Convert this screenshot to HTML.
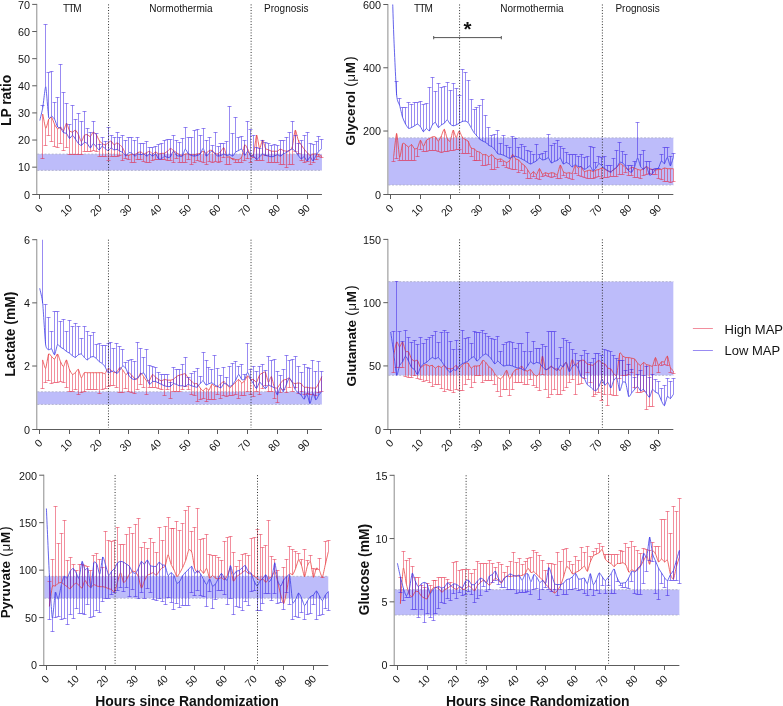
<!DOCTYPE html><html><head><meta charset="utf-8"><style>html,body{margin:0;padding:0;background:#fff;width:783px;height:706px;overflow:hidden}svg{display:block;will-change:transform}text{font-family:"Liberation Sans",sans-serif}</style></head><body>
<svg width="783" height="706" viewBox="0 0 783 706">
<rect x="37.3" y="154.11" width="284.65" height="16.28" fill="#bdbcfa"/>
<path d="M37.3 154.11H321.95M37.3 170.38H321.95" stroke="#b0b0cc" stroke-width="0.9" stroke-dasharray="2 1.6" fill="none"/>
<clipPath id="c_lp"><rect x="36.8" y="4.4" width="289.15" height="189.9"/></clipPath><g clip-path="url(#c_lp)">
<path d="M42.5 114.07V158.5M40.5 158.5H44.5M45.5 128.27V145.5M43.5 145.5H47.5M48.5 119.34V135.5M46.5 135.5H50.5M51.5 117.42V141.5M49.5 141.5H53.5M54.5 124.44V146.5M52.5 146.5H56.5M57.5 128.9V147.5M55.5 147.5H59.5M60.5 126.99V143.5M58.5 143.5H62.5M63.5 130.82V150.5M61.5 150.5H65.5M66.5 123.16V147.5M64.5 147.5H68.5M69.5 130.82V154.5M67.5 154.5H71.5M72.5 132.09V154.5M70.5 154.5H74.5M75.5 130.18V154.5M73.5 154.5H77.5M78.5 134.64V154.5M76.5 154.5H80.5M81.5 141.66V154.5M79.5 154.5H83.5M84.5 135.28V151.5M82.5 151.5H86.5M87.5 134.64V151.5M85.5 151.5H89.5M90.5 136.56V151.5M88.5 151.5H92.5M93.5 132.09V150.5M91.5 150.5H95.5M96.5 134.64V151.5M94.5 151.5H98.5M99.5 140.38V156.5M97.5 156.5H101.5M102.5 143.57V156.5M100.5 156.5H104.5M105.5 144.85V156.5M103.5 156.5H107.5M108.5 142.93V160.5M106.5 160.5H110.5M111.5 141.02V156.5M109.5 156.5H113.5M114.5 144.85V156.5M112.5 156.5H116.5M117.5 142.93V156.5M115.5 156.5H119.5M119.5 144.87V155.5M117.5 155.5H121.5M122.5 148.39V160.5M120.5 160.5H124.5M125.5 154.71V158.5M123.5 158.5H127.5M128.5 155.41V159.5M126.5 159.5H130.5M131.5 154.01V162.5M129.5 162.5H133.5M134.5 154.71V162.5M132.5 162.5H136.5M137.5 152.6V159.5M135.5 159.5H139.5M140.5 151.9V159.5M138.5 159.5H142.5M143.5 154.01V161.5M141.5 161.5H145.5M146.5 152.6V162.5M144.5 162.5H148.5M149.5 151.2V162.5M147.5 162.5H151.5M152.5 154.01V160.5M150.5 160.5H154.5M155.5 151.9V159.5M153.5 159.5H157.5M158.5 154.01V159.5M156.5 159.5H160.5M161.5 153.3V159.5M159.5 159.5H163.5M164.5 153.3V159.5M162.5 159.5H166.5M167.5 151.2V160.5M165.5 160.5H169.5M170.5 148.39V160.5M168.5 160.5H172.5M173.5 150.49V162.5M171.5 162.5H175.5M176.5 152.6V158.5M174.5 158.5H178.5M179.5 154.71V162.5M177.5 162.5H181.5M182.5 155.41V162.5M180.5 162.5H184.5M185.5 154.01V162.5M183.5 162.5H187.5M188.5 154.01V159.5M186.5 159.5H190.5M191.5 154.71V164.5M189.5 164.5H193.5M194.5 154.71V162.5M192.5 162.5H196.5M197.5 154.01V160.5M195.5 160.5H199.5M200.5 153.3V161.5M198.5 161.5H202.5M203.5 151.2V162.5M201.5 162.5H205.5M206.5 153.3V164.5M204.5 164.5H208.5M209.5 150.49V161.5M207.5 161.5H211.5M212.5 150.49V162.5M210.5 162.5H214.5M215.5 153.3V161.5M213.5 161.5H217.5M218.5 154.01V162.5M216.5 162.5H220.5M220.5 151.2V161.5M218.5 161.5H222.5M223.5 147.68V157.5M221.5 157.5H225.5M226.5 156.82V164.5M224.5 164.5H228.5M229.5 156.82V164.5M227.5 164.5H231.5M232.5 159.62V158.5M230.5 158.5H234.5M235.5 159.62V162.5M233.5 162.5H237.5M238.5 159.62V162.5M236.5 162.5H240.5M241.5 156.82V162.5M239.5 162.5H243.5M244.5 144.87V160.5M242.5 160.5H246.5M247.5 149.09V158.5M245.5 158.5H249.5M250.5 155.41V162.5M248.5 162.5H252.5M253.5 154.01V157.5M251.5 157.5H255.5M256.5 135.04V160.5M254.5 160.5H258.5M259.5 148.39V160.5M257.5 160.5H261.5M262.5 139.96V160.5M260.5 160.5H264.5M265.5 148.39V155.5M263.5 155.5H267.5M268.5 149.79V162.5M266.5 162.5H270.5M271.5 151.2V162.5M269.5 162.5H273.5M274.5 151.2V162.5M272.5 162.5H276.5M277.5 151.2V162.5M275.5 162.5H279.5M280.5 149.09V164.5M278.5 164.5H282.5M283.5 150.49V164.5M281.5 164.5H285.5M286.5 151.2V167.5M284.5 167.5H288.5M289.5 150.49V164.5M287.5 164.5H291.5M292.5 146.98V164.5M290.5 164.5H294.5M295.5 130.12V151.5M293.5 151.5H297.5M298.5 139.96V153.5M296.5 153.5H300.5M301.5 144.87V160.5M299.5 160.5H303.5M304.5 149.09V162.5M302.5 162.5H306.5M307.5 152.6V161.5M305.5 161.5H309.5M310.5 155.41V164.5M308.5 164.5H312.5M313.5 154.01V162.5M311.5 162.5H315.5M316.5 154.01V159.5M314.5 159.5H318.5M318.5 154.71V156.5M316.5 156.5H320.5M321.5 156.11V157.5M319.5 157.5H323.5" stroke="#e61e3c" stroke-opacity="0.5" stroke-width="1.0" fill="none"/>
<path d="M42.77 114.07C43.07 115.49 45.15 127.74 45.74 128.27C46.33 128.79 48.12 120.42 48.71 119.34C49.3 118.25 51.09 116.91 51.68 117.42C52.27 117.93 54.06 123.29 54.65 124.44C55.24 125.59 57.03 128.65 57.62 128.9C58.21 129.16 60 126.8 60.59 126.99C61.18 127.18 62.97 131.2 63.56 130.82C64.15 130.43 65.94 123.16 66.53 123.16C67.12 123.16 68.91 129.92 69.5 130.82C70.09 131.71 71.88 132.16 72.47 132.09C73.06 132.03 74.85 129.92 75.44 130.18C76.03 130.43 77.82 133.49 78.41 134.64C79 135.79 80.79 141.59 81.38 141.66C81.97 141.72 83.76 135.98 84.35 135.28C84.94 134.58 86.73 134.52 87.32 134.64C87.91 134.77 89.7 136.81 90.29 136.56C90.88 136.3 92.67 132.28 93.26 132.09C93.85 131.9 95.64 133.81 96.23 134.64C96.82 135.47 98.61 139.49 99.2 140.38C99.79 141.28 101.58 143.12 102.17 143.57C102.76 144.02 104.55 144.91 105.14 144.85C105.73 144.78 107.52 143.32 108.11 142.93C108.7 142.55 110.49 140.83 111.08 141.02C111.67 141.21 113.46 144.66 114.05 144.85C114.64 145.04 116.43 142.93 117.02 142.93C117.61 142.94 119.4 144.33 119.99 144.87C120.58 145.42 122.37 147.4 122.96 148.39C123.55 149.37 125.34 154.01 125.93 154.71C126.52 155.41 128.31 155.48 128.9 155.41C129.49 155.34 131.28 154.08 131.87 154.01C132.46 153.94 134.25 154.85 134.84 154.71C135.43 154.57 137.22 152.88 137.81 152.6C138.4 152.32 140.19 151.76 140.78 151.9C141.37 152.04 143.16 153.94 143.75 154.01C144.34 154.08 146.13 152.88 146.72 152.6C147.31 152.32 149.1 151.06 149.69 151.2C150.28 151.34 152.07 153.94 152.66 154.01C153.25 154.08 155.04 151.9 155.63 151.9C156.22 151.9 158.01 153.86 158.6 154.01C159.19 154.15 160.98 153.37 161.57 153.3C162.16 153.23 163.95 153.51 164.54 153.3C165.13 153.09 166.92 151.69 167.51 151.2C168.1 150.7 169.89 148.46 170.48 148.39C171.07 148.32 172.86 150.07 173.45 150.49C174.04 150.91 175.83 152.18 176.42 152.6C177.01 153.02 178.8 154.43 179.39 154.71C179.98 154.99 181.77 155.48 182.36 155.41C182.95 155.34 184.74 154.15 185.33 154.01C185.92 153.86 187.71 153.94 188.3 154.01C188.89 154.08 190.68 154.64 191.27 154.71C191.86 154.78 193.65 154.78 194.24 154.71C194.83 154.64 196.62 154.15 197.21 154.01C197.8 153.86 199.59 153.58 200.18 153.3C200.77 153.02 202.56 151.2 203.15 151.2C203.74 151.2 205.53 153.37 206.12 153.3C206.71 153.23 208.5 150.77 209.09 150.49C209.68 150.21 211.47 150.21 212.06 150.49C212.65 150.77 214.44 152.95 215.03 153.3C215.62 153.65 217.41 154.22 218 154.01C218.59 153.79 220.38 151.83 220.97 151.2C221.56 150.56 223.35 147.12 223.94 147.68C224.53 148.25 226.32 155.9 226.91 156.82C227.5 157.73 229.29 156.53 229.88 156.82C230.47 157.1 232.26 159.34 232.85 159.62C233.44 159.91 235.23 159.62 235.82 159.62C236.41 159.62 238.2 159.91 238.79 159.62C239.38 159.34 241.17 158.29 241.76 156.82C242.35 155.34 244.14 145.65 244.73 144.87C245.32 144.1 247.11 148.03 247.7 149.09C248.29 150.14 250.08 154.92 250.67 155.41C251.26 155.9 253.05 156.04 253.64 154.01C254.23 151.97 256.02 135.6 256.61 135.04C257.2 134.48 258.99 147.89 259.58 148.39C260.17 148.88 261.96 139.96 262.55 139.96C263.14 139.96 264.93 147.4 265.52 148.39C266.11 149.37 267.9 149.51 268.49 149.79C269.08 150.07 270.87 151.06 271.46 151.2C272.05 151.34 273.84 151.2 274.43 151.2C275.02 151.2 276.81 151.41 277.4 151.2C277.99 150.98 279.78 149.16 280.37 149.09C280.96 149.02 282.75 150.28 283.34 150.49C283.93 150.7 285.72 151.2 286.31 151.2C286.9 151.2 288.69 150.91 289.28 150.49C289.87 150.07 291.66 149.02 292.25 146.98C292.84 144.94 294.63 130.82 295.22 130.12C295.81 129.42 297.6 138.48 298.19 139.96C298.78 141.43 300.57 143.96 301.16 144.87C301.75 145.79 303.54 148.32 304.13 149.09C304.72 149.86 306.51 151.97 307.1 152.6C307.69 153.23 309.48 155.27 310.07 155.41C310.66 155.55 312.45 154.15 313.04 154.01C313.63 153.86 315.42 153.94 316.01 154.01C316.6 154.08 318.39 154.5 318.98 154.71C319.57 154.92 321.65 155.97 321.95 156.11" stroke="#e8403f" stroke-width="0.8" fill="none" stroke-linejoin="round"/>
<path d="M42.5 107.62V105.5M40.5 105.5H44.5M45.5 86.79V24.5M43.5 24.5H47.5M48.5 117.42V72.5M46.5 72.5H50.5M51.5 116.15V71.5M49.5 71.5H53.5M54.5 119.34V102.5M52.5 102.5H56.5M57.5 126.99V97.5M55.5 97.5H59.5M60.5 128.27V64.5M58.5 64.5H62.5M63.5 132.73V92.5M61.5 92.5H65.5M66.5 133.37V103.5M64.5 103.5H68.5M69.5 138.47V124.5M67.5 124.5H71.5M72.5 135.28V105.5M70.5 105.5H74.5M75.5 139.11V119.5M73.5 119.5H77.5M78.5 143.57V113.5M76.5 113.5H80.5M81.5 145.48V121.5M79.5 121.5H83.5M84.5 142.3V111.5M82.5 111.5H86.5M87.5 143.57V128.5M85.5 128.5H89.5M90.5 148.04V132.5M88.5 132.5H92.5M93.5 143.57V121.5M91.5 121.5H95.5M96.5 146.76V133.5M94.5 133.5H98.5M99.5 149.95V144.5M97.5 144.5H101.5M102.5 146.12V137.5M100.5 137.5H104.5M105.5 148.67V141.5M103.5 141.5H107.5M108.5 150.59V127.5M106.5 127.5H110.5M111.5 148.04V135.5M109.5 135.5H113.5M114.5 149.95V137.5M112.5 137.5H116.5M117.5 149.31V132.5M115.5 132.5H119.5M119.5 151.22V137.5M117.5 137.5H121.5M122.5 152.6V135.5M120.5 135.5H124.5M125.5 156.11V140.5M123.5 140.5H127.5M128.5 152.6V137.5M126.5 137.5H130.5M131.5 153.3V137.5M129.5 137.5H133.5M134.5 156.11V140.5M132.5 140.5H136.5M137.5 154.01V137.5M135.5 137.5H139.5M140.5 154.71V143.5M138.5 143.5H142.5M143.5 154.01V143.5M141.5 143.5H145.5M146.5 156.11V141.5M144.5 141.5H148.5M149.5 154.01V147.5M147.5 147.5H151.5M152.5 156.11V147.5M150.5 147.5H154.5M155.5 154.01V146.5M153.5 146.5H157.5M158.5 158.92V144.5M156.5 144.5H160.5M161.5 158.92V143.5M159.5 143.5H163.5M164.5 156.11V140.5M162.5 140.5H166.5M167.5 157.52V139.5M165.5 139.5H169.5M170.5 156.82V139.5M168.5 139.5H172.5M173.5 151.2V135.5M171.5 135.5H175.5M176.5 155.41V140.5M174.5 140.5H178.5M179.5 156.11V142.5M177.5 142.5H181.5M182.5 156.11V138.5M180.5 138.5H184.5M185.5 149.09V127.5M183.5 127.5H187.5M188.5 154.01V137.5M186.5 137.5H190.5M191.5 155.41V137.5M189.5 137.5H193.5M194.5 156.11V130.5M192.5 130.5H196.5M197.5 155.41V129.5M195.5 129.5H199.5M200.5 154.01V135.5M198.5 135.5H202.5M203.5 148.39V128.5M201.5 128.5H205.5M206.5 156.11V140.5M204.5 140.5H208.5M209.5 153.3V137.5M207.5 137.5H211.5M212.5 151.2V145.5M210.5 145.5H214.5M215.5 154.01V132.5M213.5 132.5H217.5M218.5 156.11V146.5M216.5 146.5H220.5M220.5 155.41V143.5M218.5 143.5H222.5M223.5 154.01V143.5M221.5 143.5H225.5M226.5 155.41V141.5M224.5 141.5H228.5M229.5 154.71V106.5M227.5 106.5H231.5M232.5 156.11V133.5M230.5 133.5H234.5M235.5 151.9V117.5M233.5 117.5H237.5M238.5 150.49V137.5M236.5 137.5H240.5M241.5 149.09V136.5M239.5 136.5H243.5M244.5 155.41V140.5M242.5 140.5H246.5M247.5 151.2V121.5M245.5 121.5H249.5M250.5 156.11V129.5M248.5 129.5H252.5M253.5 156.11V135.5M251.5 135.5H255.5M256.5 159.62V147.5M254.5 147.5H258.5M259.5 156.82V148.5M257.5 148.5H261.5M262.5 154.01V140.5M260.5 140.5H264.5M265.5 155.41V142.5M263.5 142.5H267.5M268.5 156.11V143.5M266.5 143.5H270.5M271.5 156.82V145.5M269.5 145.5H273.5M274.5 156.11V144.5M272.5 144.5H276.5M277.5 154.71V145.5M275.5 145.5H279.5M280.5 156.11V140.5M278.5 140.5H282.5M283.5 154.01V140.5M281.5 140.5H285.5M286.5 152.6V137.5M284.5 137.5H288.5M289.5 150.49V132.5M287.5 132.5H291.5M292.5 149.09V121.5M290.5 121.5H294.5M295.5 151.2V135.5M293.5 135.5H297.5M298.5 155.41V143.5M296.5 143.5H300.5M301.5 158.92V140.5M299.5 140.5H303.5M304.5 156.82V135.5M302.5 135.5H306.5M307.5 161.03V132.5M305.5 132.5H309.5M310.5 156.82V143.5M308.5 143.5H312.5M313.5 161.03V144.5M311.5 144.5H315.5M316.5 155.41V141.5M314.5 141.5H318.5M318.5 151.2V136.5M316.5 136.5H320.5M321.5 148.39V139.5M319.5 139.5H323.5" stroke="#3418e6" stroke-opacity="0.5" stroke-width="1.0" fill="none"/>
<path d="M39.8 120.52C40.1 119.23 42.18 110.99 42.77 107.62C43.36 104.25 45.15 85.81 45.74 86.79C46.33 87.77 48.12 114.49 48.71 117.42C49.3 120.36 51.09 115.96 51.68 116.15C52.27 116.34 54.06 118.25 54.65 119.34C55.24 120.42 57.03 126.1 57.62 126.99C58.21 127.88 60 127.69 60.59 128.27C61.18 128.84 62.97 132.22 63.56 132.73C64.15 133.24 65.94 132.79 66.53 133.37C67.12 133.94 68.91 138.28 69.5 138.47C70.09 138.66 71.88 135.22 72.47 135.28C73.06 135.34 74.85 138.28 75.44 139.11C76.03 139.94 77.82 142.93 78.41 143.57C79 144.21 80.79 145.61 81.38 145.48C81.97 145.36 83.76 142.49 84.35 142.3C84.94 142.1 86.73 143 87.32 143.57C87.91 144.15 89.7 148.04 90.29 148.04C90.88 148.04 92.67 143.7 93.26 143.57C93.85 143.44 95.64 146.12 96.23 146.76C96.82 147.4 98.61 150.01 99.2 149.95C99.79 149.89 101.58 146.25 102.17 146.12C102.76 145.99 104.55 148.23 105.14 148.67C105.73 149.12 107.52 150.65 108.11 150.59C108.7 150.52 110.49 148.1 111.08 148.04C111.67 147.97 113.46 149.82 114.05 149.95C114.64 150.08 116.43 149.18 117.02 149.31C117.61 149.44 119.4 150.9 119.99 151.22C120.58 151.55 122.37 152.11 122.96 152.6C123.55 153.09 125.34 156.11 125.93 156.11C126.52 156.11 128.31 152.88 128.9 152.6C129.49 152.32 131.28 152.95 131.87 153.3C132.46 153.65 134.25 156.04 134.84 156.11C135.43 156.18 137.22 154.15 137.81 154.01C138.4 153.86 140.19 154.71 140.78 154.71C141.37 154.71 143.16 153.86 143.75 154.01C144.34 154.15 146.13 156.11 146.72 156.11C147.31 156.11 149.1 154.01 149.69 154.01C150.28 154.01 152.07 156.11 152.66 156.11C153.25 156.11 155.04 153.72 155.63 154.01C156.22 154.29 158.01 158.43 158.6 158.92C159.19 159.41 160.98 159.2 161.57 158.92C162.16 158.64 163.95 156.25 164.54 156.11C165.13 155.97 166.92 157.45 167.51 157.52C168.1 157.59 169.89 157.45 170.48 156.82C171.07 156.18 172.86 151.34 173.45 151.2C174.04 151.06 175.83 154.92 176.42 155.41C177.01 155.9 178.8 156.04 179.39 156.11C179.98 156.18 181.77 156.82 182.36 156.11C182.95 155.41 184.74 149.3 185.33 149.09C185.92 148.88 187.71 153.37 188.3 154.01C188.89 154.64 190.68 155.2 191.27 155.41C191.86 155.62 193.65 156.11 194.24 156.11C194.83 156.11 196.62 155.62 197.21 155.41C197.8 155.2 199.59 154.71 200.18 154.01C200.77 153.3 202.56 148.18 203.15 148.39C203.74 148.6 205.53 155.62 206.12 156.11C206.71 156.6 208.5 153.79 209.09 153.3C209.68 152.81 211.47 151.13 212.06 151.2C212.65 151.27 214.44 153.51 215.03 154.01C215.62 154.5 217.41 155.97 218 156.11C218.59 156.25 220.38 155.62 220.97 155.41C221.56 155.2 223.35 154.01 223.94 154.01C224.53 154.01 226.32 155.34 226.91 155.41C227.5 155.48 229.29 154.64 229.88 154.71C230.47 154.78 232.26 156.39 232.85 156.11C233.44 155.83 235.23 152.46 235.82 151.9C236.41 151.34 238.2 150.77 238.79 150.49C239.38 150.21 241.17 148.6 241.76 149.09C242.35 149.58 244.14 155.2 244.73 155.41C245.32 155.62 247.11 151.13 247.7 151.2C248.29 151.27 250.08 155.62 250.67 156.11C251.26 156.6 253.05 155.76 253.64 156.11C254.23 156.46 256.02 159.55 256.61 159.62C257.2 159.7 258.99 157.38 259.58 156.82C260.17 156.25 261.96 154.15 262.55 154.01C263.14 153.86 264.93 155.2 265.52 155.41C266.11 155.62 267.9 155.97 268.49 156.11C269.08 156.25 270.87 156.82 271.46 156.82C272.05 156.82 273.84 156.32 274.43 156.11C275.02 155.9 276.81 154.71 277.4 154.71C277.99 154.71 279.78 156.18 280.37 156.11C280.96 156.04 282.75 154.36 283.34 154.01C283.93 153.65 285.72 152.95 286.31 152.6C286.9 152.25 288.69 150.84 289.28 150.49C289.87 150.14 291.66 149.02 292.25 149.09C292.84 149.16 294.63 150.56 295.22 151.2C295.81 151.83 297.6 154.64 298.19 155.41C298.78 156.18 300.57 158.78 301.16 158.92C301.75 159.06 303.54 156.6 304.13 156.82C304.72 157.03 306.51 161.03 307.1 161.03C307.69 161.03 309.48 156.82 310.07 156.82C310.66 156.82 312.45 161.17 313.04 161.03C313.63 160.89 315.42 156.39 316.01 155.41C316.6 154.43 318.39 151.9 318.98 151.2C319.57 150.49 321.65 148.67 321.95 148.39" stroke="#3c3ce6" stroke-width="0.8" fill="none" stroke-linejoin="round"/>
</g>
<line x1="108.56" y1="4.4" x2="108.56" y2="192.8" stroke="#303030" stroke-width="1" stroke-dasharray="1 1.8"/>
<line x1="251.12" y1="4.4" x2="251.12" y2="192.8" stroke="#303030" stroke-width="1" stroke-dasharray="1 1.8"/>
<path d="M36.8 3.9V194.5" stroke="#8c8c8c" stroke-width="1" fill="none"/>
<path d="M32.2 194.5H321.95" stroke="#5c5c5c" stroke-width="1" fill="none"/>
<line x1="32.2" y1="167.17" x2="36.8" y2="167.17" stroke="#5c5c5c" stroke-width="1"/>
<line x1="32.2" y1="140.04" x2="36.8" y2="140.04" stroke="#5c5c5c" stroke-width="1"/>
<line x1="32.2" y1="112.91" x2="36.8" y2="112.91" stroke="#5c5c5c" stroke-width="1"/>
<line x1="32.2" y1="85.79" x2="36.8" y2="85.79" stroke="#5c5c5c" stroke-width="1"/>
<line x1="32.2" y1="58.66" x2="36.8" y2="58.66" stroke="#5c5c5c" stroke-width="1"/>
<line x1="32.2" y1="31.53" x2="36.8" y2="31.53" stroke="#5c5c5c" stroke-width="1"/>
<line x1="32.2" y1="4.4" x2="36.8" y2="4.4" stroke="#5c5c5c" stroke-width="1"/>
<text x="30" y="198.6" font-size="10.8" fill="#141414" text-anchor="end">0</text>
<text x="30" y="171.47" font-size="10.8" fill="#141414" text-anchor="end">10</text>
<text x="30" y="144.34" font-size="10.8" fill="#141414" text-anchor="end">20</text>
<text x="30" y="117.21" font-size="10.8" fill="#141414" text-anchor="end">30</text>
<text x="30" y="90.09" font-size="10.8" fill="#141414" text-anchor="end">40</text>
<text x="30" y="62.96" font-size="10.8" fill="#141414" text-anchor="end">50</text>
<text x="30" y="35.83" font-size="10.8" fill="#141414" text-anchor="end">60</text>
<text x="30" y="8.7" font-size="10.8" fill="#141414" text-anchor="end">70</text>
<text font-size="10.5" fill="#141414" text-anchor="end" transform="translate(43.3 208.8) rotate(-45)">0</text>
<text font-size="10.5" fill="#141414" text-anchor="end" transform="translate(73 208.8) rotate(-45)">10</text>
<text font-size="10.5" fill="#141414" text-anchor="end" transform="translate(102.7 208.8) rotate(-45)">20</text>
<text font-size="10.5" fill="#141414" text-anchor="end" transform="translate(132.4 208.8) rotate(-45)">30</text>
<text font-size="10.5" fill="#141414" text-anchor="end" transform="translate(162.1 208.8) rotate(-45)">40</text>
<text font-size="10.5" fill="#141414" text-anchor="end" transform="translate(191.8 208.8) rotate(-45)">50</text>
<text font-size="10.5" fill="#141414" text-anchor="end" transform="translate(221.5 208.8) rotate(-45)">60</text>
<text font-size="10.5" fill="#141414" text-anchor="end" transform="translate(251.2 208.8) rotate(-45)">70</text>
<text font-size="10.5" fill="#141414" text-anchor="end" transform="translate(280.9 208.8) rotate(-45)">80</text>
<text font-size="10.5" fill="#141414" text-anchor="end" transform="translate(310.6 208.8) rotate(-45)">90</text>
<path d="M39.5 194.5V199M69.5 194.5V199M99.5 194.5V199M128.5 194.5V199M158.5 194.5V199M188.5 194.5V199M218.5 194.5V199M247.5 194.5V199M277.5 194.5V199M307.5 194.5V199" stroke="#5c5c5c" stroke-width="1" fill="none"/>
<text font-size="13.8" font-weight="bold" fill="#111" text-anchor="middle" transform="translate(11 100.4) rotate(-90)">LP ratio</text>
<text x="71.86" y="11.5" font-size="10" fill="#141414" text-anchor="middle" letter-spacing="-0.9">TTM</text>
<text x="180.89" y="11.5" font-size="10" fill="#141414" text-anchor="middle">Normothermia</text>
<text x="286.31" y="11.5" font-size="10" fill="#141414" text-anchor="middle">Prognosis</text>
<rect x="388.4" y="137.86" width="284.93" height="47.13" fill="#bdbcfa"/>
<path d="M388.4 137.86H673.33M388.4 184.99H673.33" stroke="#b0b0cc" stroke-width="0.9" stroke-dasharray="2 1.6" fill="none"/>
<clipPath id="c_gly"><rect x="387.9" y="4.5" width="289.43" height="189.8"/></clipPath><g clip-path="url(#c_gly)">
<path d="M393.5 156.44V161.5M391.5 161.5H395.5M396.5 133.48V158.5M394.5 158.5H398.5M399.5 157.29V160.5M397.5 160.5H401.5M402.5 143.68V160.5M400.5 160.5H404.5M405.5 144.53V160.5M403.5 160.5H407.5M408.5 147.08V160.5M406.5 160.5H410.5M411.5 144.53V160.5M409.5 160.5H413.5M414.5 148.78V160.5M412.5 160.5H416.5M417.5 147.93V156.5M415.5 156.5H419.5M420.5 140.28V149.5M418.5 149.5H422.5M423.5 146.23V151.5M421.5 151.5H425.5M426.5 140.28V151.5M424.5 151.5H428.5M429.5 138.58V150.5M427.5 150.5H431.5M432.5 136.88V150.5M430.5 150.5H434.5M435.5 136.88V150.5M433.5 150.5H437.5M438.5 141.13V151.5M436.5 151.5H440.5M441.5 136.03V152.5M439.5 152.5H443.5M444.5 129.22V151.5M442.5 151.5H446.5M447.5 138.58V151.5M445.5 151.5H449.5M450.5 141.13V150.5M448.5 150.5H452.5M453.5 130.07V150.5M451.5 150.5H455.5M456.5 137.73V149.5M454.5 149.5H458.5M459.5 130.93V149.5M457.5 149.5H461.5M462.5 136.88V153.5M460.5 153.5H464.5M465.5 139.43V153.5M463.5 153.5H467.5M468.5 141.13V153.5M466.5 153.5H470.5M471.5 147.93V156.5M469.5 156.5H473.5M474.5 148.78V160.5M472.5 160.5H476.5M476.5 151.33V160.5M474.5 160.5H478.5M479.5 152.18V160.5M477.5 160.5H481.5M482.5 154.73V165.5M480.5 165.5H484.5M485.5 154.53V165.5M483.5 165.5H487.5M488.5 156.66V164.5M486.5 164.5H490.5M491.5 154.53V169.5M489.5 169.5H493.5M494.5 158.07V169.5M492.5 169.5H496.5M497.5 159.49V167.5M495.5 167.5H499.5M500.5 158.9V161.5M498.5 161.5H502.5M503.5 160.94V165.5M501.5 165.5H505.5M506.5 162.47V167.5M504.5 167.5H508.5M509.5 160.43V168.5M507.5 168.5H511.5M512.5 154.3V169.5M510.5 169.5H514.5M515.5 158.9V169.5M513.5 169.5H517.5M518.5 159.92V172.5M516.5 172.5H520.5M521.5 163.49V170.5M519.5 170.5H523.5M524.5 165.54V173.5M522.5 173.5H526.5M527.5 169.62V178.5M525.5 178.5H529.5M530.5 174.22V178.5M528.5 178.5H532.5M533.5 171.66V176.5M531.5 176.5H535.5M536.5 174.73V178.5M534.5 178.5H538.5M539.5 168.6V179.5M537.5 179.5H541.5M542.5 174.22V176.5M540.5 176.5H544.5M545.5 172.69V175.5M543.5 175.5H547.5M548.5 173.71V176.5M546.5 176.5H550.5M551.5 172.69V177.5M549.5 177.5H553.5M554.5 173.2V176.5M552.5 176.5H556.5M557.5 174.73V178.5M555.5 178.5H559.5M560.5 165.03V178.5M558.5 178.5H562.5M563.5 171.66V175.5M561.5 175.5H565.5M566.5 173.2V177.5M564.5 177.5H568.5M569.5 172.69V178.5M567.5 178.5H571.5M572.5 173.2V179.5M570.5 179.5H574.5M575.5 165.54V173.5M573.5 173.5H577.5M578.5 168.09V175.5M576.5 175.5H580.5M581.5 166.57V176.5M579.5 176.5H583.5M584.5 171.53V177.5M582.5 177.5H586.5M587.5 170.82V178.5M585.5 178.5H589.5M590.5 170.11V178.5M588.5 178.5H592.5M593.5 171.53V178.5M591.5 178.5H595.5M595.5 170.11V177.5M593.5 177.5H597.5M598.5 169.41V176.5M596.5 176.5H600.5M601.5 167.99V178.5M599.5 178.5H603.5M604.5 169.41V177.5M602.5 177.5H606.5M607.5 170.82V177.5M605.5 177.5H609.5M610.5 171.53V176.5M608.5 176.5H612.5M613.5 169.41V176.5M611.5 176.5H615.5M616.5 167.28V176.5M614.5 176.5H618.5M619.5 163.74V174.5M617.5 174.5H621.5M622.5 165.16V174.5M620.5 174.5H624.5M625.5 167.99V172.5M623.5 172.5H627.5M628.5 169.41V175.5M626.5 175.5H630.5M631.5 167.28V175.5M629.5 175.5H633.5M634.5 167.99V177.5M632.5 177.5H636.5M637.5 169.41V177.5M635.5 177.5H639.5M640.5 170.11V178.5M638.5 178.5H642.5M643.5 168.7V175.5M641.5 175.5H645.5M646.5 166.57V174.5M644.5 174.5H648.5M649.5 168.7V173.5M647.5 173.5H651.5M652.5 169.41V174.5M650.5 174.5H654.5M655.5 170.11V174.5M653.5 174.5H657.5M658.5 169.41V178.5M656.5 178.5H660.5M661.5 169.41V179.5M659.5 179.5H663.5M664.5 167.99V181.5M662.5 181.5H666.5M667.5 168.7V181.5M665.5 181.5H669.5M670.5 168.7V182.5M668.5 182.5H672.5M673.5 168.7V181.5M671.5 181.5H675.5" stroke="#e61e3c" stroke-opacity="0.5" stroke-width="1.0" fill="none"/>
<path d="M393.68 156.44C393.97 154.14 396.05 133.39 396.65 133.48C397.25 133.56 399.03 156.27 399.62 157.29C400.22 158.31 402 144.96 402.6 143.68C403.19 142.4 404.98 144.19 405.57 144.53C406.17 144.87 407.96 147.08 408.55 147.08C409.14 147.08 410.93 144.36 411.52 144.53C412.12 144.7 413.9 148.44 414.5 148.78C415.1 149.12 416.88 148.78 417.47 147.93C418.07 147.08 419.85 140.45 420.45 140.28C421.05 140.11 422.83 146.23 423.43 146.23C424.02 146.23 425.8 141.04 426.4 140.28C427 139.51 428.78 138.92 429.38 138.58C429.97 138.24 431.75 137.05 432.35 136.88C432.94 136.71 434.73 136.45 435.32 136.88C435.92 137.3 437.71 141.21 438.3 141.13C438.89 141.04 440.68 137.22 441.27 136.03C441.87 134.84 443.65 128.97 444.25 129.22C444.85 129.48 446.63 137.39 447.22 138.58C447.82 139.77 449.6 141.98 450.2 141.13C450.8 140.28 452.58 130.41 453.18 130.07C453.77 129.73 455.55 137.64 456.15 137.73C456.75 137.81 458.53 131.01 459.12 130.93C459.72 130.84 461.5 136.03 462.1 136.88C462.7 137.73 464.48 139 465.07 139.43C465.67 139.85 467.46 140.28 468.05 141.13C468.64 141.98 470.43 147.17 471.02 147.93C471.62 148.7 473.4 148.44 474 148.78C474.6 149.12 476.38 150.99 476.98 151.33C477.57 151.67 479.36 151.84 479.95 152.18C480.54 152.52 482.33 154.5 482.93 154.73C483.52 154.97 485.3 154.34 485.9 154.53C486.5 154.72 488.28 156.66 488.88 156.66C489.47 156.66 491.25 154.39 491.85 154.53C492.45 154.67 494.23 157.58 494.82 158.07C495.42 158.57 497.21 159.41 497.8 159.49C498.39 159.57 500.18 158.75 500.77 158.9C501.37 159.04 503.15 160.58 503.75 160.94C504.35 161.3 506.13 162.52 506.73 162.47C507.32 162.42 509.11 161.25 509.7 160.43C510.29 159.61 512.08 154.45 512.67 154.3C513.27 154.15 515.05 158.34 515.65 158.9C516.25 159.46 518.03 159.46 518.62 159.92C519.22 160.38 521 162.93 521.6 163.49C522.2 164.06 523.98 164.92 524.58 165.54C525.17 166.15 526.95 168.75 527.55 169.62C528.14 170.49 529.93 174.01 530.52 174.22C531.12 174.42 532.9 171.61 533.5 171.66C534.1 171.72 535.88 175.04 536.48 174.73C537.07 174.42 538.86 168.65 539.45 168.6C540.05 168.55 541.83 173.81 542.42 174.22C543.02 174.63 544.8 172.74 545.4 172.69C546 172.64 547.78 173.71 548.38 173.71C548.97 173.71 550.75 172.74 551.35 172.69C551.95 172.64 553.73 172.99 554.33 173.2C554.92 173.4 556.7 175.55 557.3 174.73C557.89 173.91 559.68 165.33 560.27 165.03C560.87 164.72 562.65 170.85 563.25 171.66C563.85 172.48 565.63 173.09 566.23 173.2C566.82 173.3 568.61 172.69 569.2 172.69C569.8 172.69 571.58 173.91 572.17 173.2C572.77 172.48 574.55 166.05 575.15 165.54C575.75 165.03 577.53 167.99 578.12 168.09C578.72 168.19 580.5 166.23 581.1 166.57C581.7 166.92 583.48 171.1 584.08 171.53C584.67 171.95 586.45 170.96 587.05 170.82C587.64 170.68 589.43 170.04 590.02 170.11C590.62 170.18 592.4 171.53 593 171.53C593.6 171.53 595.38 170.33 595.98 170.11C596.57 169.9 598.36 169.62 598.95 169.41C599.55 169.19 601.33 167.99 601.92 167.99C602.52 167.99 604.3 169.12 604.9 169.41C605.5 169.69 607.28 170.61 607.88 170.82C608.47 171.03 610.25 171.67 610.85 171.53C611.45 171.39 613.23 169.83 613.83 169.41C614.42 168.98 616.2 167.85 616.8 167.28C617.39 166.71 619.18 163.95 619.77 163.74C620.37 163.53 622.15 164.73 622.75 165.16C623.35 165.58 625.13 167.56 625.73 167.99C626.32 168.41 628.11 169.48 628.7 169.41C629.3 169.33 631.08 167.42 631.67 167.28C632.27 167.14 634.05 167.78 634.65 167.99C635.25 168.2 637.03 169.19 637.62 169.41C638.22 169.62 640 170.18 640.6 170.11C641.2 170.04 642.98 169.05 643.58 168.7C644.17 168.34 645.95 166.57 646.55 166.57C647.14 166.57 648.93 168.41 649.52 168.7C650.12 168.98 651.9 169.26 652.5 169.41C653.1 169.55 654.88 170.11 655.48 170.11C656.07 170.11 657.86 169.48 658.45 169.41C659.05 169.33 660.83 169.55 661.42 169.41C662.02 169.26 663.8 168.06 664.4 167.99C665 167.92 666.78 168.63 667.38 168.7C667.97 168.77 669.75 168.7 670.35 168.7C670.95 168.7 673.03 168.7 673.33 168.7" stroke="#e8403f" stroke-width="0.8" fill="none" stroke-linejoin="round"/>
<path d="M396.5 95V81.5M394.5 81.5H398.5M399.5 105.41V98.5M397.5 98.5H401.5M402.5 117.32V107.5M400.5 107.5H404.5M405.5 124.12V107.5M403.5 107.5H407.5M408.5 128.37V102.5M406.5 102.5H410.5M411.5 127.52V104.5M409.5 104.5H413.5M414.5 125.82V102.5M412.5 102.5H416.5M417.5 124.12V102.5M415.5 102.5H419.5M420.5 126.67V101.5M418.5 101.5H422.5M423.5 131.78V104.5M421.5 104.5H425.5M426.5 128.37V103.5M424.5 103.5H428.5M429.5 130.93V87.5M427.5 87.5H431.5M432.5 124.97V77.5M430.5 77.5H434.5M435.5 122.42V91.5M433.5 91.5H437.5M438.5 127.52V83.5M436.5 83.5H440.5M441.5 124.97V87.5M439.5 87.5H443.5M444.5 123.27V86.5M442.5 86.5H446.5M447.5 119.87V82.5M445.5 82.5H449.5M450.5 124.12V90.5M448.5 90.5H452.5M453.5 125.82V83.5M451.5 83.5H455.5M456.5 124.97V88.5M454.5 88.5H458.5M459.5 123.27V95.5M457.5 95.5H461.5M462.5 121.57V69.5M460.5 69.5H464.5M465.5 121.06V72.5M463.5 72.5H467.5M468.5 122.42V80.5M466.5 80.5H470.5M471.5 127.52V99.5M469.5 99.5H473.5M474.5 132.63V109.5M472.5 109.5H476.5M476.5 136.03V107.5M474.5 107.5H478.5M479.5 139.43V105.5M477.5 105.5H481.5M482.5 141.13V99.5M480.5 99.5H484.5M485.5 142.49V115.5M483.5 115.5H487.5M488.5 145.33V127.5M486.5 127.5H490.5M491.5 146.74V135.5M489.5 135.5H493.5M494.5 149.58V134.5M492.5 134.5H496.5M497.5 153.82V130.5M495.5 130.5H499.5M500.5 154.3V143.5M498.5 143.5H502.5M503.5 155.32V135.5M501.5 135.5H505.5M506.5 156.85V145.5M504.5 145.5H508.5M509.5 158.39V147.5M507.5 147.5H511.5M512.5 156.85V136.5M510.5 136.5H514.5M515.5 156.34V138.5M513.5 138.5H517.5M518.5 157.36V147.5M516.5 147.5H520.5M521.5 158.9V144.5M519.5 144.5H523.5M524.5 160.43V146.5M522.5 146.5H526.5M527.5 162.47V150.5M525.5 150.5H529.5M530.5 164V151.5M528.5 151.5H532.5M533.5 162.47V154.5M531.5 154.5H535.5M536.5 160.94V144.5M534.5 144.5H538.5M539.5 157.88V154.5M537.5 154.5H541.5M542.5 159.92V153.5M540.5 153.5H544.5M545.5 159.41V151.5M543.5 151.5H547.5M548.5 157.88V134.5M546.5 134.5H550.5M551.5 162.98V145.5M549.5 145.5H553.5M554.5 161.45V143.5M552.5 143.5H556.5M557.5 160.43V140.5M555.5 140.5H559.5M560.5 157.88V146.5M558.5 146.5H562.5M563.5 164V148.5M561.5 148.5H565.5M566.5 162.47V152.5M564.5 152.5H568.5M569.5 164V154.5M567.5 154.5H571.5M572.5 167.07V154.5M570.5 154.5H574.5M575.5 164.51V154.5M573.5 154.5H577.5M578.5 166.56V156.5M576.5 156.5H580.5M581.5 166.57V154.5M579.5 154.5H583.5M584.5 169.41V157.5M582.5 157.5H586.5M587.5 167.99V156.5M585.5 156.5H589.5M590.5 165.86V146.5M588.5 146.5H592.5M593.5 170.82V147.5M591.5 147.5H595.5M595.5 167.99V162.5M593.5 162.5H597.5M598.5 163.74V156.5M596.5 156.5H600.5M601.5 165.86V157.5M599.5 157.5H603.5M604.5 168.7V156.5M602.5 156.5H606.5M607.5 170.82V165.5M605.5 165.5H609.5M610.5 172.24V165.5M608.5 165.5H612.5M613.5 169.41V158.5M611.5 158.5H615.5M616.5 167.28V150.5M614.5 150.5H618.5M619.5 162.32V142.5M617.5 142.5H621.5M622.5 163.03V151.5M620.5 151.5H624.5M625.5 166.57V154.5M623.5 154.5H627.5M628.5 170.82V165.5M626.5 165.5H630.5M631.5 172.24V165.5M629.5 165.5H633.5M634.5 166.57V161.5M632.5 161.5H636.5M637.5 158.07V122.5M635.5 122.5H639.5M640.5 166.57V154.5M638.5 154.5H642.5M643.5 169.41V150.5M641.5 150.5H645.5M646.5 166.57V161.5M644.5 161.5H648.5M649.5 175.07V161.5M647.5 161.5H651.5M652.5 173.65V169.5M650.5 169.5H654.5M655.5 169.41V168.5M653.5 168.5H657.5M658.5 167.99V168.5M656.5 168.5H660.5M661.5 160.91V154.5M659.5 154.5H663.5M664.5 163.74V147.5M662.5 147.5H666.5M667.5 157.37V147.5M665.5 147.5H669.5M670.5 165.86V156.5M668.5 156.5H672.5M673.5 157.37V153.5M671.5 153.5H675.5" stroke="#3418e6" stroke-opacity="0.5" stroke-width="1.0" fill="none"/>
<path d="M390.7 -60C391 -50.7 393.08 17.5 393.68 33C394.27 48.5 396.05 87.76 396.65 95C397.25 102.24 399.03 103.18 399.62 105.41C400.22 107.65 402 115.45 402.6 117.32C403.19 119.19 404.98 123.02 405.57 124.12C406.17 125.23 407.96 128.03 408.55 128.37C409.14 128.71 410.93 127.78 411.52 127.52C412.12 127.27 413.9 126.16 414.5 125.82C415.1 125.48 416.88 124.04 417.47 124.12C418.07 124.21 419.85 125.91 420.45 126.67C421.05 127.44 422.83 131.61 423.43 131.78C424.02 131.95 425.8 128.46 426.4 128.37C427 128.29 428.78 131.27 429.38 130.93C429.97 130.59 431.75 125.82 432.35 124.97C432.94 124.12 434.73 122.17 435.32 122.42C435.92 122.68 437.71 127.27 438.3 127.52C438.89 127.78 440.68 125.4 441.27 124.97C441.87 124.55 443.65 123.78 444.25 123.27C444.85 122.76 446.63 119.79 447.22 119.87C447.82 119.96 449.6 123.53 450.2 124.12C450.8 124.72 452.58 125.74 453.18 125.82C453.77 125.91 455.55 125.23 456.15 124.97C456.75 124.72 458.53 123.61 459.12 123.27C459.72 122.93 461.5 121.79 462.1 121.57C462.7 121.35 464.48 120.98 465.07 121.06C465.67 121.15 467.46 121.78 468.05 122.42C468.64 123.07 470.43 126.5 471.02 127.52C471.62 128.54 473.4 131.78 474 132.63C474.6 133.48 476.38 135.35 476.98 136.03C477.57 136.71 479.36 138.92 479.95 139.43C480.54 139.94 482.33 140.82 482.93 141.13C483.52 141.44 485.3 142.07 485.9 142.49C486.5 142.91 488.28 144.9 488.88 145.33C489.47 145.75 491.25 146.32 491.85 146.74C492.45 147.17 494.23 148.87 494.82 149.58C495.42 150.28 497.21 153.35 497.8 153.82C498.39 154.3 500.18 154.15 500.77 154.3C501.37 154.45 503.15 155.07 503.75 155.32C504.35 155.58 506.13 156.55 506.73 156.85C507.32 157.16 509.11 158.39 509.7 158.39C510.29 158.39 512.08 157.06 512.67 156.85C513.27 156.65 515.05 156.29 515.65 156.34C516.25 156.39 518.03 157.11 518.62 157.36C519.22 157.62 521 158.59 521.6 158.9C522.2 159.2 523.98 160.07 524.58 160.43C525.17 160.79 526.95 162.11 527.55 162.47C528.14 162.83 529.93 164 530.52 164C531.12 164 532.9 162.78 533.5 162.47C534.1 162.17 535.88 161.4 536.48 160.94C537.07 160.48 538.86 157.98 539.45 157.88C540.05 157.77 541.83 159.77 542.42 159.92C543.02 160.07 544.8 159.61 545.4 159.41C546 159.2 547.78 157.52 548.38 157.88C548.97 158.23 550.75 162.63 551.35 162.98C551.95 163.34 553.73 161.71 554.33 161.45C554.92 161.2 556.7 160.79 557.3 160.43C557.89 160.07 559.68 157.52 560.27 157.88C560.87 158.23 562.65 163.54 563.25 164C563.85 164.46 565.63 162.47 566.23 162.47C566.82 162.47 568.61 163.54 569.2 164C569.8 164.46 571.58 167.02 572.17 167.07C572.77 167.12 574.55 164.57 575.15 164.51C575.75 164.46 577.53 166.35 578.12 166.56C578.72 166.76 580.5 166.29 581.1 166.57C581.7 166.86 583.48 169.26 584.08 169.41C584.67 169.55 586.45 168.34 587.05 167.99C587.64 167.63 589.43 165.58 590.02 165.86C590.62 166.15 592.4 170.61 593 170.82C593.6 171.03 595.38 168.7 595.98 167.99C596.57 167.28 598.36 163.95 598.95 163.74C599.55 163.53 601.33 165.37 601.92 165.86C602.52 166.36 604.3 168.2 604.9 168.7C605.5 169.19 607.28 170.47 607.88 170.82C608.47 171.18 610.25 172.38 610.85 172.24C611.45 172.1 613.23 169.9 613.83 169.41C614.42 168.91 616.2 167.99 616.8 167.28C617.39 166.57 619.18 162.75 619.77 162.32C620.37 161.9 622.15 162.61 622.75 163.03C623.35 163.46 625.13 165.79 625.73 166.57C626.32 167.35 628.11 170.25 628.7 170.82C629.3 171.39 631.08 172.66 631.67 172.24C632.27 171.81 634.05 167.99 634.65 166.57C635.25 165.16 637.03 158.07 637.62 158.07C638.22 158.07 640 165.44 640.6 166.57C641.2 167.71 642.98 169.41 643.58 169.41C644.17 169.41 645.95 166.01 646.55 166.57C647.14 167.14 648.93 174.36 649.52 175.07C650.12 175.78 651.9 174.22 652.5 173.65C653.1 173.09 654.88 169.97 655.48 169.41C656.07 168.84 657.86 168.84 658.45 167.99C659.05 167.14 660.83 161.33 661.42 160.91C662.02 160.48 663.8 164.09 664.4 163.74C665 163.39 666.78 157.15 667.38 157.37C667.97 157.58 669.75 165.86 670.35 165.86C670.95 165.86 673.03 158.22 673.33 157.37" stroke="#3c3ce6" stroke-width="0.8" fill="none" stroke-linejoin="round"/>
</g>
<line x1="459.57" y1="4.5" x2="459.57" y2="192.8" stroke="#303030" stroke-width="1" stroke-dasharray="1 1.8"/>
<line x1="602.37" y1="4.5" x2="602.37" y2="192.8" stroke="#303030" stroke-width="1" stroke-dasharray="1 1.8"/>
<path d="M387.9 4V194.5" stroke="#8c8c8c" stroke-width="1" fill="none"/>
<path d="M383.3 194.5H673.33" stroke="#5c5c5c" stroke-width="1" fill="none"/>
<line x1="383.3" y1="131.03" x2="387.9" y2="131.03" stroke="#5c5c5c" stroke-width="1"/>
<line x1="383.3" y1="67.77" x2="387.9" y2="67.77" stroke="#5c5c5c" stroke-width="1"/>
<line x1="383.3" y1="4.5" x2="387.9" y2="4.5" stroke="#5c5c5c" stroke-width="1"/>
<text x="381.1" y="198.6" font-size="10.8" fill="#141414" text-anchor="end">0</text>
<text x="381.1" y="135.33" font-size="10.8" fill="#141414" text-anchor="end">200</text>
<text x="381.1" y="72.07" font-size="10.8" fill="#141414" text-anchor="end">400</text>
<text x="381.1" y="8.8" font-size="10.8" fill="#141414" text-anchor="end">600</text>
<text font-size="10.5" fill="#141414" text-anchor="end" transform="translate(394.2 208.8) rotate(-45)">0</text>
<text font-size="10.5" fill="#141414" text-anchor="end" transform="translate(423.95 208.8) rotate(-45)">10</text>
<text font-size="10.5" fill="#141414" text-anchor="end" transform="translate(453.7 208.8) rotate(-45)">20</text>
<text font-size="10.5" fill="#141414" text-anchor="end" transform="translate(483.45 208.8) rotate(-45)">30</text>
<text font-size="10.5" fill="#141414" text-anchor="end" transform="translate(513.2 208.8) rotate(-45)">40</text>
<text font-size="10.5" fill="#141414" text-anchor="end" transform="translate(542.95 208.8) rotate(-45)">50</text>
<text font-size="10.5" fill="#141414" text-anchor="end" transform="translate(572.7 208.8) rotate(-45)">60</text>
<text font-size="10.5" fill="#141414" text-anchor="end" transform="translate(602.45 208.8) rotate(-45)">70</text>
<text font-size="10.5" fill="#141414" text-anchor="end" transform="translate(632.2 208.8) rotate(-45)">80</text>
<text font-size="10.5" fill="#141414" text-anchor="end" transform="translate(661.95 208.8) rotate(-45)">90</text>
<path d="M390.5 194.5V199M420.5 194.5V199M450.5 194.5V199M479.5 194.5V199M509.5 194.5V199M539.5 194.5V199M569.5 194.5V199M598.5 194.5V199M628.5 194.5V199M658.5 194.5V199" stroke="#5c5c5c" stroke-width="1" fill="none"/>
<text font-size="13.6" font-weight="bold" fill="#111" text-anchor="start" transform="translate(354.8 145.4) rotate(-90)">Glycerol<tspan font-weight="normal" font-size="14" dx="4.2">(</tspan><tspan font-weight="normal" dx="0.4">μ</tspan><tspan dx="0.4">M</tspan><tspan font-weight="normal" font-size="14" dx="1.1">)</tspan></text>
<text x="422.91" y="11.5" font-size="10" fill="#141414" text-anchor="middle" letter-spacing="-0.9">TTM</text>
<text x="532.02" y="11.5" font-size="10" fill="#141414" text-anchor="middle">Normothermia</text>
<text x="637.62" y="11.5" font-size="10" fill="#141414" text-anchor="middle">Prognosis</text>
<rect x="37.3" y="391.8" width="284.55" height="12.63" fill="#bdbcfa"/>
<path d="M37.3 391.8H321.85M37.3 404.43H321.85" stroke="#b0b0cc" stroke-width="0.9" stroke-dasharray="2 1.6" fill="none"/>
<clipPath id="c_lac"><rect x="36.8" y="239.7" width="289.05" height="189.5"/></clipPath><g clip-path="url(#c_lac)">
<path d="M42.5 359.93V388.5M40.5 388.5H44.5M45.5 368.44V382.5M43.5 382.5H47.5M48.5 353.98V380.5M46.5 380.5H50.5M51.5 356.53V383.5M49.5 383.5H53.5M54.5 359.08V382.5M52.5 382.5H56.5M57.5 353.98V382.5M55.5 382.5H59.5M60.5 361.63V381.5M58.5 381.5H62.5M63.5 366.73V382.5M61.5 382.5H65.5M66.5 359.93V387.5M64.5 387.5H68.5M69.5 369.29V391.5M67.5 391.5H71.5M72.5 374.39V391.5M70.5 391.5H74.5M75.5 372.69V389.5M73.5 389.5H77.5M78.5 369.29V394.5M76.5 394.5H80.5M81.5 377.79V392.5M79.5 392.5H83.5M84.5 372.69V391.5M82.5 391.5H86.5M87.5 372.69V389.5M85.5 389.5H89.5M90.5 372.69V389.5M88.5 389.5H92.5M93.5 372.69V389.5M91.5 389.5H95.5M96.5 372.69V389.5M94.5 389.5H98.5M99.5 372.69V393.5M97.5 393.5H101.5M102.5 372.69V389.5M100.5 389.5H104.5M105.5 373.54V388.5M103.5 388.5H107.5M108.5 368.44V386.5M106.5 386.5H110.5M110.5 370.14V385.5M108.5 385.5H112.5M113.5 372.69V385.5M111.5 385.5H115.5M116.5 371.84V387.5M114.5 387.5H118.5M119.5 367.59V392.5M117.5 392.5H121.5M122.5 370.14V392.5M120.5 392.5H124.5M125.5 374.39V388.5M123.5 388.5H127.5M128.5 372.69V391.5M126.5 391.5H130.5M131.5 375.24V392.5M129.5 392.5H133.5M134.5 378.64V393.5M132.5 393.5H136.5M137.5 378.7V389.5M135.5 389.5H139.5M140.5 373.03V384.5M138.5 384.5H142.5M143.5 376.57V387.5M141.5 387.5H145.5M146.5 380.82V394.5M144.5 394.5H148.5M149.5 380.11V387.5M147.5 387.5H151.5M152.5 374.45V387.5M150.5 387.5H154.5M155.5 377.28V387.5M153.5 387.5H157.5M158.5 379.41V388.5M156.5 388.5H160.5M161.5 380.82V389.5M159.5 389.5H163.5M164.5 379.41V395.5M162.5 395.5H166.5M167.5 380.11V389.5M165.5 389.5H169.5M170.5 380.11V398.5M168.5 398.5H172.5M173.5 379.41V391.5M171.5 391.5H175.5M176.5 376.57V391.5M174.5 391.5H178.5M179.5 375.16V391.5M177.5 391.5H181.5M182.5 374.45V389.5M180.5 389.5H184.5M185.5 373.74V386.5M183.5 386.5H187.5M188.5 377.99V389.5M186.5 389.5H190.5M191.5 380.82V394.5M189.5 394.5H193.5M194.5 383.65V395.5M192.5 395.5H196.5M197.5 383.65V401.5M195.5 401.5H199.5M200.5 387.9V399.5M198.5 399.5H202.5M203.5 390.74V398.5M201.5 398.5H205.5M206.5 387.9V401.5M204.5 401.5H208.5M208.5 390.03V399.5M206.5 399.5H210.5M211.5 384.36V399.5M209.5 399.5H213.5M214.5 386.49V399.5M212.5 399.5H216.5M217.5 386.49V394.5M215.5 394.5H219.5M220.5 383.65V398.5M218.5 398.5H222.5M223.5 381.53V395.5M221.5 395.5H225.5M226.5 384.36V396.5M224.5 396.5H228.5M229.5 387.9V395.5M227.5 395.5H231.5M232.5 385.07V395.5M230.5 395.5H234.5M235.5 382.24V394.5M233.5 394.5H237.5M238.5 379.41V398.5M236.5 398.5H240.5M241.5 382.95V395.5M239.5 395.5H243.5M244.5 380.82V395.5M242.5 395.5H246.5M247.5 375.86V391.5M245.5 391.5H249.5M250.5 379.41V394.5M248.5 394.5H252.5M253.5 379.41V396.5M251.5 396.5H255.5M256.5 382.24V391.5M254.5 391.5H258.5M259.5 375.16V394.5M257.5 394.5H261.5M262.5 373.03V388.5M260.5 388.5H264.5M265.5 372.32V385.5M263.5 385.5H267.5M268.5 382.24V391.5M266.5 391.5H270.5M271.5 376.57V391.5M269.5 391.5H273.5M274.5 387.2V398.5M272.5 398.5H276.5M277.5 387.9V402.5M275.5 402.5H279.5M280.5 383.65V392.5M278.5 392.5H282.5M283.5 380.11V389.5M281.5 389.5H285.5M286.5 379.41V392.5M284.5 392.5H288.5M289.5 377.99V387.5M287.5 387.5H291.5M292.5 382.24V391.5M290.5 391.5H294.5M295.5 383.65V387.5M293.5 387.5H297.5M298.5 382.95V393.5M296.5 393.5H300.5M301.5 383.65V391.5M299.5 391.5H303.5M304.5 387.2V394.5M302.5 394.5H306.5M307.5 387.2V393.5M305.5 393.5H309.5M309.5 387.9V394.5M307.5 394.5H311.5M312.5 387.9V394.5M310.5 394.5H314.5M315.5 387.9V395.5M313.5 395.5H317.5M318.5 382.95V392.5M316.5 392.5H320.5M321.5 376.57V391.5M319.5 391.5H323.5" stroke="#e61e3c" stroke-opacity="0.5" stroke-width="1.0" fill="none"/>
<path d="M42.67 359.93C42.97 360.78 45.05 369.03 45.64 368.44C46.23 367.84 48.02 355.17 48.61 353.98C49.2 352.79 50.99 356.02 51.58 356.53C52.17 357.04 53.96 359.34 54.55 359.08C55.14 358.83 56.93 353.72 57.52 353.98C58.11 354.23 59.9 360.36 60.49 361.63C61.08 362.91 62.87 366.9 63.46 366.73C64.05 366.56 65.84 359.68 66.43 359.93C67.02 360.19 68.81 367.84 69.4 369.29C69.99 370.73 71.78 374.05 72.37 374.39C72.96 374.73 74.75 373.2 75.34 372.69C75.93 372.18 77.72 368.78 78.31 369.29C78.9 369.8 80.69 377.45 81.28 377.79C81.87 378.13 83.66 373.2 84.25 372.69C84.84 372.18 86.63 372.69 87.22 372.69C87.81 372.69 89.6 372.69 90.19 372.69C90.78 372.69 92.57 372.69 93.16 372.69C93.75 372.69 95.54 372.69 96.13 372.69C96.72 372.69 98.51 372.69 99.1 372.69C99.69 372.69 101.48 372.6 102.07 372.69C102.66 372.77 104.45 373.96 105.04 373.54C105.63 373.11 107.42 368.78 108.01 368.44C108.6 368.1 110.39 369.71 110.98 370.14C111.57 370.56 113.36 372.52 113.95 372.69C114.54 372.86 116.33 372.35 116.92 371.84C117.51 371.33 119.3 367.76 119.89 367.59C120.48 367.41 122.27 369.46 122.86 370.14C123.45 370.82 125.24 374.13 125.83 374.39C126.42 374.64 128.21 372.6 128.8 372.69C129.39 372.77 131.18 374.64 131.77 375.24C132.36 375.83 134.15 378.29 134.74 378.64C135.33 378.99 137.12 379.26 137.71 378.7C138.3 378.14 140.09 373.24 140.68 373.03C141.27 372.82 143.06 375.79 143.65 376.57C144.24 377.35 146.03 380.47 146.62 380.82C147.21 381.18 149 380.75 149.59 380.11C150.18 379.48 151.97 374.73 152.56 374.45C153.15 374.16 154.94 376.78 155.53 377.28C156.12 377.78 157.91 379.05 158.5 379.41C159.09 379.76 160.88 380.82 161.47 380.82C162.06 380.82 163.85 379.48 164.44 379.41C165.03 379.33 166.82 380.04 167.41 380.11C168 380.18 169.79 380.18 170.38 380.11C170.97 380.04 172.76 379.76 173.35 379.41C173.94 379.05 175.73 377 176.32 376.57C176.91 376.15 178.7 375.37 179.29 375.16C179.88 374.94 181.67 374.59 182.26 374.45C182.85 374.31 184.64 373.39 185.23 373.74C185.82 374.09 187.61 377.28 188.2 377.99C188.79 378.7 190.58 380.25 191.17 380.82C191.76 381.39 193.55 383.37 194.14 383.65C194.73 383.94 196.52 383.23 197.11 383.65C197.7 384.08 199.49 387.2 200.08 387.9C200.67 388.61 202.46 390.74 203.05 390.74C203.64 390.74 205.43 387.97 206.02 387.9C206.61 387.83 208.4 390.38 208.99 390.03C209.58 389.67 211.37 384.72 211.96 384.36C212.55 384.01 214.34 386.27 214.93 386.49C215.52 386.7 217.31 386.77 217.9 386.49C218.49 386.2 220.28 384.15 220.87 383.65C221.46 383.16 223.25 381.46 223.84 381.53C224.43 381.6 226.22 383.73 226.81 384.36C227.4 385 229.19 387.83 229.78 387.9C230.37 387.97 232.16 385.64 232.75 385.07C233.34 384.5 235.13 382.8 235.72 382.24C236.31 381.67 238.1 379.33 238.69 379.41C239.28 379.48 241.07 382.8 241.66 382.95C242.25 383.09 244.04 381.53 244.63 380.82C245.22 380.11 247.01 376.01 247.6 375.86C248.19 375.72 249.98 379.05 250.57 379.41C251.16 379.76 252.95 379.12 253.54 379.41C254.13 379.69 255.92 382.66 256.51 382.24C257.1 381.81 258.89 376.08 259.48 375.16C260.07 374.24 261.86 373.31 262.45 373.03C263.04 372.75 264.83 371.4 265.42 372.32C266.01 373.24 267.8 381.81 268.39 382.24C268.98 382.66 270.77 376.08 271.36 376.57C271.95 377.07 273.74 386.06 274.33 387.2C274.92 388.33 276.71 388.26 277.3 387.9C277.89 387.55 279.68 384.43 280.27 383.65C280.86 382.88 282.65 380.54 283.24 380.11C283.83 379.69 285.62 379.62 286.21 379.41C286.8 379.19 288.59 377.71 289.18 377.99C289.77 378.27 291.56 381.67 292.15 382.24C292.74 382.8 294.53 383.58 295.12 383.65C295.71 383.73 297.5 382.95 298.09 382.95C298.68 382.95 300.47 383.23 301.06 383.65C301.65 384.08 303.44 386.84 304.03 387.2C304.62 387.55 306.41 387.12 307 387.2C307.59 387.27 309.38 387.83 309.97 387.9C310.56 387.97 312.35 387.9 312.94 387.9C313.53 387.9 315.32 388.4 315.91 387.9C316.5 387.41 318.29 384.08 318.88 382.95C319.47 381.81 321.55 377.21 321.85 376.57" stroke="#e8403f" stroke-width="0.8" fill="none" stroke-linejoin="round"/>
<path d="M42.5 303V234.5M40.5 234.5H44.5M45.5 344.63V304.5M43.5 304.5H47.5M48.5 349.73V317.5M46.5 317.5H50.5M51.5 348.88V331.5M49.5 331.5H53.5M54.5 354.83V311.5M52.5 311.5H56.5M57.5 344.63V311.5M55.5 311.5H59.5M60.5 347.18V321.5M58.5 321.5H62.5M63.5 348.88V319.5M61.5 319.5H65.5M66.5 351.43V331.5M64.5 331.5H68.5M69.5 353.13V320.5M67.5 320.5H71.5M72.5 355.68V326.5M70.5 326.5H74.5M75.5 357.38V323.5M73.5 323.5H77.5M78.5 354.83V326.5M76.5 326.5H80.5M81.5 353.98V338.5M79.5 338.5H83.5M84.5 357.38V326.5M82.5 326.5H86.5M87.5 359.93V331.5M85.5 331.5H89.5M90.5 357.38V335.5M88.5 335.5H92.5M93.5 356.53V332.5M91.5 332.5H95.5M96.5 358.23V344.5M94.5 344.5H98.5M99.5 361.63V343.5M97.5 343.5H101.5M102.5 363.33V345.5M100.5 345.5H104.5M105.5 366.73V345.5M103.5 345.5H107.5M108.5 372.69V343.5M106.5 343.5H110.5M110.5 371.84V342.5M108.5 342.5H112.5M113.5 370.99V348.5M111.5 348.5H115.5M116.5 373.54V343.5M114.5 343.5H118.5M119.5 370.14V346.5M117.5 346.5H121.5M122.5 365.88V349.5M120.5 349.5H124.5M125.5 368.44V362.5M123.5 362.5H127.5M128.5 375.24V360.5M126.5 360.5H130.5M131.5 378.64V359.5M129.5 359.5H133.5M134.5 379.49V361.5M132.5 361.5H136.5M137.5 377.99V342.5M135.5 342.5H139.5M140.5 374.45V348.5M138.5 348.5H142.5M143.5 373.03V357.5M141.5 357.5H145.5M146.5 377.99V349.5M144.5 349.5H148.5M149.5 384.36V365.5M147.5 365.5H151.5M152.5 381.53V366.5M150.5 366.5H154.5M155.5 381.53V367.5M153.5 367.5H157.5M158.5 382.95V372.5M156.5 372.5H160.5M161.5 384.36V374.5M159.5 374.5H163.5M164.5 385.78V374.5M162.5 374.5H166.5M167.5 386.49V374.5M165.5 374.5H169.5M170.5 386.49V382.5M168.5 382.5H172.5M173.5 383.65V367.5M171.5 367.5H175.5M176.5 384.36V369.5M174.5 369.5H178.5M179.5 385.78V369.5M177.5 369.5H181.5M182.5 385.78V364.5M180.5 364.5H184.5M185.5 386.49V357.5M183.5 357.5H187.5M188.5 384.36V377.5M186.5 377.5H190.5M191.5 385.78V373.5M189.5 373.5H193.5M194.5 386.49V371.5M192.5 371.5H196.5M197.5 387.2V368.5M195.5 368.5H199.5M200.5 383.65V376.5M198.5 376.5H202.5M203.5 380.82V352.5M201.5 352.5H205.5M206.5 385.07V360.5M204.5 360.5H208.5M208.5 383.65V367.5M206.5 367.5H210.5M211.5 382.95V369.5M209.5 369.5H213.5M214.5 385.07V355.5M212.5 355.5H216.5M217.5 386.49V368.5M215.5 368.5H219.5M220.5 387.9V375.5M218.5 375.5H222.5M223.5 383.65V367.5M221.5 367.5H225.5M226.5 384.36V377.5M224.5 377.5H228.5M229.5 386.49V366.5M227.5 366.5H231.5M232.5 384.36V363.5M230.5 363.5H234.5M235.5 380.11V361.5M233.5 361.5H237.5M238.5 374.45V366.5M236.5 366.5H240.5M241.5 379.41V364.5M239.5 364.5H243.5M244.5 379.41V374.5M242.5 374.5H246.5M247.5 372.32V343.5M245.5 343.5H249.5M250.5 379.41V369.5M248.5 369.5H252.5M253.5 383.65V366.5M251.5 366.5H255.5M256.5 388.61V371.5M254.5 371.5H258.5M259.5 382.24V366.5M257.5 366.5H261.5M262.5 385.07V364.5M260.5 364.5H264.5M265.5 388.61V370.5M263.5 370.5H267.5M268.5 385.07V356.5M266.5 356.5H270.5M271.5 386.49V360.5M269.5 360.5H273.5M274.5 387.9V359.5M272.5 359.5H276.5M277.5 394.99V371.5M275.5 371.5H279.5M280.5 387.2V375.5M278.5 375.5H282.5M283.5 391.44V369.5M281.5 369.5H285.5M286.5 385.07V355.5M284.5 355.5H288.5M289.5 377.99V360.5M287.5 360.5H291.5M292.5 382.24V359.5M290.5 359.5H294.5M295.5 389.32V356.5M293.5 356.5H297.5M298.5 392.86V366.5M296.5 366.5H300.5M301.5 394.99V372.5M299.5 372.5H303.5M304.5 399.24V364.5M302.5 364.5H306.5M307.5 394.28V367.5M305.5 367.5H309.5M309.5 403.48V368.5M307.5 368.5H311.5M312.5 393.57V360.5M310.5 360.5H314.5M315.5 399.94V371.5M313.5 371.5H317.5M318.5 394.99V361.5M316.5 361.5H320.5M321.5 391.44V371.5M319.5 371.5H323.5" stroke="#3418e6" stroke-opacity="0.5" stroke-width="1.0" fill="none"/>
<path d="M39.7 288.3C40 289.77 42.08 297.37 42.67 303C43.26 308.63 45.05 339.95 45.64 344.63C46.23 349.3 48.02 349.3 48.61 349.73C49.2 350.15 50.99 348.37 51.58 348.88C52.17 349.39 53.96 355.26 54.55 354.83C55.14 354.4 56.93 345.39 57.52 344.63C58.11 343.86 59.9 346.75 60.49 347.18C61.08 347.6 62.87 348.45 63.46 348.88C64.05 349.3 65.84 351 66.43 351.43C67.02 351.85 68.81 352.7 69.4 353.13C69.99 353.55 71.78 355.26 72.37 355.68C72.96 356.11 74.75 357.47 75.34 357.38C75.93 357.3 77.72 355.17 78.31 354.83C78.9 354.49 80.69 353.72 81.28 353.98C81.87 354.23 83.66 356.79 84.25 357.38C84.84 357.98 86.63 359.93 87.22 359.93C87.81 359.93 89.6 357.72 90.19 357.38C90.78 357.04 92.57 356.45 93.16 356.53C93.75 356.62 95.54 357.72 96.13 358.23C96.72 358.74 98.51 361.12 99.1 361.63C99.69 362.14 101.48 362.82 102.07 363.33C102.66 363.84 104.45 365.8 105.04 366.73C105.63 367.67 107.42 372.18 108.01 372.69C108.6 373.2 110.39 372.01 110.98 371.84C111.57 371.67 113.36 370.82 113.95 370.99C114.54 371.16 116.33 373.62 116.92 373.54C117.51 373.45 119.3 370.9 119.89 370.14C120.48 369.37 122.27 366.05 122.86 365.88C123.45 365.71 125.24 367.5 125.83 368.44C126.42 369.37 128.21 374.22 128.8 375.24C129.39 376.26 131.18 378.21 131.77 378.64C132.36 379.06 134.15 379.55 134.74 379.49C135.33 379.42 137.12 378.49 137.71 377.99C138.3 377.48 140.09 374.94 140.68 374.45C141.27 373.95 143.06 372.68 143.65 373.03C144.24 373.39 146.03 376.86 146.62 377.99C147.21 379.12 149 384.01 149.59 384.36C150.18 384.72 151.97 381.81 152.56 381.53C153.15 381.25 154.94 381.39 155.53 381.53C156.12 381.67 157.91 382.66 158.5 382.95C159.09 383.23 160.88 384.08 161.47 384.36C162.06 384.65 163.85 385.57 164.44 385.78C165.03 385.99 166.82 386.42 167.41 386.49C168 386.56 169.79 386.77 170.38 386.49C170.97 386.2 172.76 383.87 173.35 383.65C173.94 383.44 175.73 384.15 176.32 384.36C176.91 384.58 178.7 385.64 179.29 385.78C179.88 385.92 181.67 385.71 182.26 385.78C182.85 385.85 184.64 386.63 185.23 386.49C185.82 386.35 187.61 384.43 188.2 384.36C188.79 384.29 190.58 385.57 191.17 385.78C191.76 385.99 193.55 386.35 194.14 386.49C194.73 386.63 196.52 387.48 197.11 387.2C197.7 386.91 199.49 384.29 200.08 383.65C200.67 383.02 202.46 380.68 203.05 380.82C203.64 380.96 205.43 384.79 206.02 385.07C206.61 385.35 208.4 383.87 208.99 383.65C209.58 383.44 211.37 382.8 211.96 382.95C212.55 383.09 214.34 384.72 214.93 385.07C215.52 385.42 217.31 386.2 217.9 386.49C218.49 386.77 220.28 388.19 220.87 387.9C221.46 387.62 223.25 384.01 223.84 383.65C224.43 383.3 226.22 384.08 226.81 384.36C227.4 384.65 229.19 386.49 229.78 386.49C230.37 386.49 232.16 385 232.75 384.36C233.34 383.73 235.13 381.1 235.72 380.11C236.31 379.12 238.1 374.52 238.69 374.45C239.28 374.38 241.07 378.91 241.66 379.41C242.25 379.9 244.04 380.11 244.63 379.41C245.22 378.7 247.01 372.32 247.6 372.32C248.19 372.32 249.98 378.27 250.57 379.41C251.16 380.54 252.95 382.73 253.54 383.65C254.13 384.58 255.92 388.75 256.51 388.61C257.1 388.47 258.89 382.59 259.48 382.24C260.07 381.88 261.86 384.43 262.45 385.07C263.04 385.71 264.83 388.61 265.42 388.61C266.01 388.61 267.8 385.28 268.39 385.07C268.98 384.86 270.77 386.2 271.36 386.49C271.95 386.77 273.74 387.05 274.33 387.9C274.92 388.75 276.71 395.06 277.3 394.99C277.89 394.92 279.68 387.55 280.27 387.2C280.86 386.84 282.65 391.66 283.24 391.44C283.83 391.23 285.62 386.42 286.21 385.07C286.8 383.73 288.59 378.27 289.18 377.99C289.77 377.71 291.56 381.1 292.15 382.24C292.74 383.37 294.53 388.26 295.12 389.32C295.71 390.38 297.5 392.29 298.09 392.86C298.68 393.43 300.47 394.35 301.06 394.99C301.65 395.62 303.44 399.31 304.03 399.24C304.62 399.16 306.41 393.85 307 394.28C307.59 394.7 309.38 403.56 309.97 403.48C310.56 403.41 312.35 393.92 312.94 393.57C313.53 393.22 315.32 399.8 315.91 399.94C316.5 400.08 318.29 395.84 318.88 394.99C319.47 394.14 321.55 391.8 321.85 391.44" stroke="#3c3ce6" stroke-width="0.8" fill="none" stroke-linejoin="round"/>
</g>
<line x1="108.46" y1="239.7" x2="108.46" y2="427.7" stroke="#303030" stroke-width="1" stroke-dasharray="1 1.8"/>
<line x1="251.02" y1="239.7" x2="251.02" y2="427.7" stroke="#303030" stroke-width="1" stroke-dasharray="1 1.8"/>
<path d="M36.8 239.2V429.5" stroke="#8c8c8c" stroke-width="1" fill="none"/>
<path d="M32.2 429.5H321.85" stroke="#5c5c5c" stroke-width="1" fill="none"/>
<line x1="32.2" y1="366.03" x2="36.8" y2="366.03" stroke="#5c5c5c" stroke-width="1"/>
<line x1="32.2" y1="302.87" x2="36.8" y2="302.87" stroke="#5c5c5c" stroke-width="1"/>
<line x1="32.2" y1="239.7" x2="36.8" y2="239.7" stroke="#5c5c5c" stroke-width="1"/>
<text x="30" y="433.5" font-size="10.8" fill="#141414" text-anchor="end">0</text>
<text x="30" y="370.33" font-size="10.8" fill="#141414" text-anchor="end">2</text>
<text x="30" y="307.17" font-size="10.8" fill="#141414" text-anchor="end">4</text>
<text x="30" y="244" font-size="10.8" fill="#141414" text-anchor="end">6</text>
<text font-size="10.5" fill="#141414" text-anchor="end" transform="translate(43.2 443.7) rotate(-45)">0</text>
<text font-size="10.5" fill="#141414" text-anchor="end" transform="translate(72.9 443.7) rotate(-45)">10</text>
<text font-size="10.5" fill="#141414" text-anchor="end" transform="translate(102.6 443.7) rotate(-45)">20</text>
<text font-size="10.5" fill="#141414" text-anchor="end" transform="translate(132.3 443.7) rotate(-45)">30</text>
<text font-size="10.5" fill="#141414" text-anchor="end" transform="translate(162 443.7) rotate(-45)">40</text>
<text font-size="10.5" fill="#141414" text-anchor="end" transform="translate(191.7 443.7) rotate(-45)">50</text>
<text font-size="10.5" fill="#141414" text-anchor="end" transform="translate(221.4 443.7) rotate(-45)">60</text>
<text font-size="10.5" fill="#141414" text-anchor="end" transform="translate(251.1 443.7) rotate(-45)">70</text>
<text font-size="10.5" fill="#141414" text-anchor="end" transform="translate(280.8 443.7) rotate(-45)">80</text>
<text font-size="10.5" fill="#141414" text-anchor="end" transform="translate(310.5 443.7) rotate(-45)">90</text>
<path d="M39.5 429.5V434M69.5 429.5V434M99.5 429.5V434M128.5 429.5V434M158.5 429.5V434M188.5 429.5V434M217.5 429.5V434M247.5 429.5V434M277.5 429.5V434M307.5 429.5V434" stroke="#5c5c5c" stroke-width="1" fill="none"/>
<text font-size="13.8" font-weight="bold" fill="#111" text-anchor="middle" transform="translate(14.9 334.3) rotate(-90)">Lactate (mM)</text>
<rect x="388.4" y="281.66" width="284.93" height="93.63" fill="#bdbcfa"/>
<path d="M388.4 281.66H673.33M388.4 375.29H673.33" stroke="#b0b0cc" stroke-width="0.9" stroke-dasharray="2 1.6" fill="none"/>
<clipPath id="c_glu"><rect x="387.9" y="239.4" width="289.43" height="189.8"/></clipPath><g clip-path="url(#c_glu)">
<path d="M393.5 355.41V372.5M391.5 372.5H395.5M396.5 341.95V367.5M394.5 367.5H398.5M399.5 346.91V367.5M397.5 367.5H401.5M402.5 341.95V367.5M400.5 367.5H404.5M405.5 351.16V376.5M403.5 376.5H407.5M408.5 351.87V377.5M406.5 377.5H410.5M411.5 358.95V377.5M409.5 377.5H413.5M414.5 361.08V375.5M412.5 375.5H416.5M417.5 360.37V378.5M415.5 378.5H419.5M420.5 367.45V379.5M418.5 379.5H422.5M423.5 365.33V381.5M421.5 381.5H425.5M426.5 364.62V380.5M424.5 380.5H428.5M429.5 366.03V382.5M427.5 382.5H431.5M432.5 365.33V386.5M430.5 386.5H434.5M435.5 368.16V384.5M433.5 384.5H437.5M438.5 366.03V384.5M436.5 384.5H440.5M441.5 367.45V388.5M439.5 388.5H443.5M444.5 365.33V391.5M442.5 391.5H446.5M447.5 368.16V389.5M445.5 389.5H449.5M450.5 368.87V390.5M448.5 390.5H452.5M453.5 368.16V392.5M451.5 392.5H455.5M456.5 365.33V389.5M454.5 389.5H458.5M459.5 368.87V390.5M457.5 390.5H461.5M462.5 365.33V390.5M460.5 390.5H464.5M465.5 363.2V384.5M463.5 384.5H467.5M468.5 363.2V379.5M466.5 379.5H470.5M471.5 368.16V387.5M469.5 387.5H473.5M474.5 366.03V382.5M472.5 382.5H476.5M476.5 366.03V375.5M474.5 375.5H478.5M479.5 365.33V375.5M477.5 375.5H481.5M482.5 360.37V382.5M480.5 382.5H484.5M485.5 362.49V380.5M483.5 380.5H487.5M488.5 366.74V380.5M486.5 380.5H490.5M491.5 368.87V380.5M489.5 380.5H493.5M494.5 373.82V384.5M492.5 384.5H496.5M497.5 377.37V391.5M495.5 391.5H499.5M500.5 378.78V396.5M498.5 396.5H502.5M503.5 375.24V389.5M501.5 389.5H505.5M506.5 370.28V389.5M504.5 389.5H508.5M509.5 378.78V395.5M507.5 395.5H511.5M512.5 373.12V389.5M510.5 389.5H514.5M515.5 369.58V382.5M513.5 382.5H517.5M518.5 368.87V382.5M516.5 382.5H520.5M521.5 366.03V382.5M519.5 382.5H523.5M524.5 370.28V384.5M522.5 384.5H526.5M527.5 370.99V384.5M525.5 384.5H529.5M530.5 369.58V379.5M528.5 379.5H532.5M533.5 373.82V385.5M531.5 385.5H535.5M536.5 375.95V387.5M534.5 387.5H538.5M539.5 373.12V390.5M537.5 390.5H541.5M542.5 356.12V374.5M540.5 374.5H544.5M545.5 369.58V389.5M543.5 389.5H547.5M548.5 368.16V397.5M546.5 397.5H550.5M551.5 366.03V394.5M549.5 394.5H553.5M554.5 368.87V389.5M552.5 389.5H556.5M557.5 368.87V394.5M555.5 394.5H559.5M560.5 370.28V394.5M558.5 394.5H562.5M563.5 365.33V390.5M561.5 390.5H565.5M566.5 362.49V387.5M564.5 387.5H568.5M569.5 369.58V382.5M567.5 382.5H571.5M572.5 359.66V379.5M570.5 379.5H574.5M575.5 365.33V394.5M573.5 394.5H577.5M578.5 362.49V384.5M576.5 384.5H580.5M581.5 360.37V383.5M579.5 383.5H583.5M584.5 360.37V378.5M582.5 378.5H586.5M587.5 363.91V372.5M585.5 372.5H589.5M590.5 364.62V382.5M588.5 382.5H592.5M593.5 365.33V396.5M591.5 396.5H595.5M595.5 362.49V394.5M593.5 394.5H597.5M598.5 360.37V392.5M596.5 392.5H600.5M601.5 363.2V400.5M599.5 400.5H603.5M604.5 363.91V394.5M602.5 394.5H606.5M607.5 368.16V405.5M605.5 405.5H609.5M610.5 368.87V394.5M608.5 394.5H612.5M613.5 373.82V395.5M611.5 395.5H615.5M616.5 374.53V395.5M614.5 395.5H618.5M619.5 353.29V378.5M617.5 378.5H621.5M622.5 356.12V375.5M620.5 375.5H624.5M625.5 357.54V375.5M623.5 375.5H627.5M628.5 357.54V374.5M626.5 374.5H630.5M631.5 358.24V372.5M629.5 372.5H633.5M634.5 358.95V387.5M632.5 387.5H636.5M637.5 363.2V392.5M635.5 392.5H639.5M640.5 365.33V392.5M638.5 392.5H642.5M643.5 362.49V391.5M641.5 391.5H645.5M646.5 364.62V409.5M644.5 409.5H648.5M649.5 365.33V406.5M647.5 406.5H651.5M652.5 366.03V406.5M650.5 406.5H654.5M655.5 357.54V365.5M653.5 365.5H657.5M658.5 365.33V372.5M656.5 372.5H660.5M661.5 361.78V365.5M659.5 365.5H663.5M664.5 361.78V364.5M662.5 364.5H666.5M667.5 356.12V365.5M665.5 365.5H669.5M670.5 367.45V372.5M668.5 372.5H672.5M673.5 370.99V373.5M671.5 373.5H675.5" stroke="#e61e3c" stroke-opacity="0.5" stroke-width="1.0" fill="none"/>
<path d="M393.68 355.41C393.97 354.07 396.05 342.8 396.65 341.95C397.25 341.1 399.03 346.91 399.62 346.91C400.22 346.91 402 341.53 402.6 341.95C403.19 342.38 404.98 350.17 405.57 351.16C406.17 352.15 407.96 351.09 408.55 351.87C409.14 352.65 410.93 358.03 411.52 358.95C412.12 359.87 413.9 360.93 414.5 361.08C415.1 361.22 416.88 359.73 417.47 360.37C418.07 361.01 419.85 366.95 420.45 367.45C421.05 367.95 422.83 365.61 423.43 365.33C424.02 365.04 425.8 364.55 426.4 364.62C427 364.69 428.78 365.96 429.38 366.03C429.97 366.1 431.75 365.11 432.35 365.33C432.94 365.54 434.73 368.09 435.32 368.16C435.92 368.23 437.71 366.1 438.3 366.03C438.89 365.96 440.68 367.52 441.27 367.45C441.87 367.38 443.65 365.25 444.25 365.33C444.85 365.4 446.63 367.8 447.22 368.16C447.82 368.51 449.6 368.87 450.2 368.87C450.8 368.87 452.58 368.51 453.18 368.16C453.77 367.8 455.55 365.25 456.15 365.33C456.75 365.4 458.53 368.87 459.12 368.87C459.72 368.87 461.5 365.89 462.1 365.33C462.7 364.76 464.48 363.41 465.07 363.2C465.67 362.99 467.46 362.71 468.05 363.2C468.64 363.7 470.43 367.88 471.02 368.16C471.62 368.44 473.4 366.25 474 366.03C474.6 365.82 476.38 366.1 476.98 366.03C477.57 365.96 479.36 365.89 479.95 365.33C480.54 364.76 482.33 360.65 482.93 360.37C483.52 360.08 485.3 361.86 485.9 362.49C486.5 363.13 488.28 366.1 488.88 366.74C489.47 367.38 491.25 368.16 491.85 368.87C492.45 369.58 494.23 372.97 494.82 373.82C495.42 374.67 497.21 376.87 497.8 377.37C498.39 377.86 500.18 378.99 500.77 378.78C501.37 378.57 503.15 376.09 503.75 375.24C504.35 374.39 506.13 369.93 506.73 370.28C507.32 370.64 509.11 378.5 509.7 378.78C510.29 379.07 512.08 374.04 512.67 373.12C513.27 372.2 515.05 370 515.65 369.58C516.25 369.15 518.03 369.22 518.62 368.87C519.22 368.51 521 365.89 521.6 366.03C522.2 366.18 523.98 369.79 524.58 370.28C525.17 370.78 526.95 371.06 527.55 370.99C528.14 370.92 529.93 369.29 530.52 369.58C531.12 369.86 532.9 373.19 533.5 373.82C534.1 374.46 535.88 376.02 536.48 375.95C537.07 375.88 538.86 375.1 539.45 373.12C540.05 371.13 541.83 356.47 542.42 356.12C543.02 355.76 544.8 368.37 545.4 369.58C546 370.78 547.78 368.51 548.38 368.16C548.97 367.8 550.75 365.96 551.35 366.03C551.95 366.1 553.73 368.58 554.33 368.87C554.92 369.15 556.7 368.73 557.3 368.87C557.89 369.01 559.68 370.64 560.27 370.28C560.87 369.93 562.65 366.1 563.25 365.33C563.85 364.55 565.63 362.07 566.23 362.49C566.82 362.92 568.61 369.86 569.2 369.58C569.8 369.29 571.58 360.08 572.17 359.66C572.77 359.24 574.55 365.04 575.15 365.33C575.75 365.61 577.53 362.99 578.12 362.49C578.72 362 580.5 360.58 581.1 360.37C581.7 360.16 583.48 360.01 584.08 360.37C584.67 360.72 586.45 363.48 587.05 363.91C587.64 364.33 589.43 364.48 590.02 364.62C590.62 364.76 592.4 365.54 593 365.33C593.6 365.11 595.38 362.99 595.98 362.49C596.57 362 598.36 360.3 598.95 360.37C599.55 360.44 601.33 362.85 601.92 363.2C602.52 363.56 604.3 363.41 604.9 363.91C605.5 364.41 607.28 367.66 607.88 368.16C608.47 368.65 610.25 368.3 610.85 368.87C611.45 369.43 613.23 373.26 613.83 373.82C614.42 374.39 616.2 376.59 616.8 374.53C617.39 372.48 619.18 355.13 619.77 353.29C620.37 351.44 622.15 355.69 622.75 356.12C623.35 356.54 625.13 357.39 625.73 357.54C626.32 357.68 628.11 357.46 628.7 357.54C629.3 357.61 631.08 358.1 631.67 358.24C632.27 358.39 634.05 358.46 634.65 358.95C635.25 359.45 637.03 362.56 637.62 363.2C638.22 363.84 640 365.4 640.6 365.33C641.2 365.25 642.98 362.56 643.58 362.49C644.17 362.42 645.95 364.33 646.55 364.62C647.14 364.9 648.93 365.18 649.52 365.33C650.12 365.47 651.9 366.81 652.5 366.03C653.1 365.25 654.88 357.61 655.48 357.54C656.07 357.46 657.86 364.9 658.45 365.33C659.05 365.75 660.83 362.14 661.42 361.78C662.02 361.43 663.8 362.35 664.4 361.78C665 361.22 666.78 355.55 667.38 356.12C667.97 356.69 669.75 365.96 670.35 367.45C670.95 368.94 673.03 370.64 673.33 370.99" stroke="#e8403f" stroke-width="0.8" fill="none" stroke-linejoin="round"/>
<path d="M393.5 352.58V331.5M391.5 331.5H395.5M396.5 375.24V281.5M394.5 281.5H398.5M399.5 365.33V331.5M397.5 331.5H401.5M402.5 361.78V341.5M400.5 341.5H404.5M405.5 356.12V330.5M403.5 330.5H407.5M408.5 361.08V337.5M406.5 337.5H410.5M411.5 367.45V342.5M409.5 342.5H413.5M414.5 369.58V340.5M412.5 340.5H416.5M417.5 374.53V344.5M415.5 344.5H419.5M420.5 367.45V337.5M418.5 337.5H422.5M423.5 363.91V343.5M421.5 343.5H425.5M426.5 362.49V339.5M424.5 339.5H428.5M429.5 359.66V337.5M427.5 337.5H431.5M432.5 357.54V335.5M430.5 335.5H434.5M435.5 358.95V331.5M433.5 331.5H437.5M438.5 357.54V342.5M436.5 342.5H440.5M441.5 361.08V332.5M439.5 332.5H443.5M444.5 365.33V330.5M442.5 330.5H446.5M447.5 369.58V332.5M445.5 332.5H449.5M450.5 372.41V341.5M448.5 341.5H452.5M453.5 369.58V349.5M451.5 349.5H455.5M456.5 370.28V340.5M454.5 340.5H458.5M459.5 366.03V349.5M457.5 349.5H461.5M462.5 363.91V330.5M460.5 330.5H464.5M465.5 362.49V338.5M463.5 338.5H467.5M468.5 361.08V337.5M466.5 337.5H470.5M471.5 358.24V343.5M469.5 343.5H473.5M474.5 356.83V331.5M472.5 331.5H476.5M476.5 361.08V332.5M474.5 332.5H478.5M479.5 358.24V332.5M477.5 332.5H481.5M482.5 355.41V330.5M480.5 330.5H484.5M485.5 353.99V333.5M483.5 333.5H487.5M488.5 356.12V336.5M486.5 336.5H490.5M491.5 359.66V338.5M489.5 338.5H493.5M494.5 363.91V339.5M492.5 339.5H496.5M497.5 361.08V336.5M495.5 336.5H499.5M500.5 363.91V351.5M498.5 351.5H502.5M503.5 366.03V344.5M501.5 344.5H505.5M506.5 365.33V342.5M504.5 342.5H508.5M509.5 365.33V341.5M507.5 341.5H511.5M512.5 366.03V342.5M510.5 342.5H514.5M515.5 367.45V348.5M513.5 348.5H517.5M518.5 368.16V343.5M516.5 343.5H520.5M521.5 368.87V343.5M519.5 343.5H523.5M524.5 370.28V351.5M522.5 351.5H526.5M527.5 366.03V332.5M525.5 332.5H529.5M530.5 361.78V351.5M528.5 351.5H532.5M533.5 363.91V341.5M531.5 341.5H535.5M536.5 362.49V348.5M534.5 348.5H538.5M539.5 363.2V348.5M537.5 348.5H541.5M542.5 366.74V344.5M540.5 344.5H544.5M545.5 369.58V346.5M543.5 346.5H547.5M548.5 368.87V331.5M546.5 331.5H550.5M551.5 366.74V331.5M549.5 331.5H553.5M554.5 368.87V331.5M552.5 331.5H556.5M557.5 370.28V358.5M555.5 358.5H559.5M560.5 365.33V347.5M558.5 347.5H562.5M563.5 366.74V338.5M561.5 338.5H565.5M566.5 362.49V340.5M564.5 340.5H568.5M569.5 371.7V342.5M567.5 342.5H571.5M572.5 366.74V349.5M570.5 349.5H574.5M575.5 364.62V353.5M573.5 353.5H577.5M578.5 368.16V360.5M576.5 360.5H580.5M581.5 376.66V355.5M579.5 355.5H583.5M584.5 378.07V350.5M582.5 350.5H586.5M587.5 384.45V353.5M585.5 353.5H589.5M590.5 386.57V362.5M588.5 362.5H592.5M593.5 389.41V358.5M591.5 358.5H595.5M595.5 390.82V353.5M593.5 353.5H597.5M598.5 386.57V353.5M596.5 353.5H600.5M601.5 379.49V355.5M599.5 355.5H603.5M604.5 385.16V349.5M602.5 349.5H606.5M607.5 382.32V350.5M605.5 350.5H609.5M610.5 387.99V351.5M608.5 351.5H612.5M613.5 380.2V355.5M611.5 355.5H615.5M616.5 378.07V358.5M614.5 358.5H618.5M619.5 390.82V360.5M617.5 360.5H621.5M622.5 382.32V360.5M620.5 360.5H624.5M625.5 383.03V370.5M623.5 370.5H627.5M628.5 396.49V364.5M626.5 364.5H630.5M631.5 392.95V369.5M629.5 369.5H633.5M634.5 389.41V377.5M632.5 377.5H636.5M637.5 386.57V374.5M635.5 374.5H639.5M640.5 390.82V370.5M638.5 370.5H642.5M643.5 389.41V375.5M641.5 375.5H645.5M646.5 393.65V366.5M644.5 366.5H648.5M649.5 397.2V377.5M647.5 377.5H651.5M652.5 389.41V374.5M650.5 374.5H654.5M655.5 392.24V379.5M653.5 379.5H657.5M658.5 393.65V381.5M656.5 381.5H660.5M661.5 400.74V388.5M659.5 388.5H663.5M664.5 405.69V385.5M662.5 385.5H666.5M667.5 396.49V378.5M665.5 378.5H669.5M670.5 398.61V381.5M668.5 381.5H672.5M673.5 394.36V378.5M671.5 378.5H675.5" stroke="#3418e6" stroke-opacity="0.5" stroke-width="1.0" fill="none"/>
<path d="M390.7 332.04C391 334.09 393.08 348.26 393.68 352.58C394.27 356.9 396.05 373.97 396.65 375.24C397.25 376.52 399.03 366.67 399.62 365.33C400.22 363.98 402 362.71 402.6 361.78C403.19 360.86 404.98 356.19 405.57 356.12C406.17 356.05 407.96 359.94 408.55 361.08C409.14 362.21 410.93 366.6 411.52 367.45C412.12 368.3 413.9 368.87 414.5 369.58C415.1 370.28 416.88 374.75 417.47 374.53C418.07 374.32 419.85 368.51 420.45 367.45C421.05 366.39 422.83 364.41 423.43 363.91C424.02 363.41 425.8 362.92 426.4 362.49C427 362.07 428.78 360.16 429.38 359.66C429.97 359.16 431.75 357.61 432.35 357.54C432.94 357.46 434.73 358.95 435.32 358.95C435.92 358.95 437.71 357.32 438.3 357.54C438.89 357.75 440.68 360.3 441.27 361.08C441.87 361.86 443.65 364.48 444.25 365.33C444.85 366.18 446.63 368.87 447.22 369.58C447.82 370.28 449.6 372.41 450.2 372.41C450.8 372.41 452.58 369.79 453.18 369.58C453.77 369.36 455.55 370.64 456.15 370.28C456.75 369.93 458.53 366.67 459.12 366.03C459.72 365.4 461.5 364.26 462.1 363.91C462.7 363.56 464.48 362.78 465.07 362.49C465.67 362.21 467.46 361.5 468.05 361.08C468.64 360.65 470.43 358.67 471.02 358.24C471.62 357.82 473.4 356.54 474 356.83C474.6 357.11 476.38 360.93 476.98 361.08C477.57 361.22 479.36 358.81 479.95 358.24C480.54 357.68 482.33 355.84 482.93 355.41C483.52 354.99 485.3 353.92 485.9 353.99C486.5 354.07 488.28 355.55 488.88 356.12C489.47 356.69 491.25 358.88 491.85 359.66C492.45 360.44 494.23 363.77 494.82 363.91C495.42 364.05 497.21 361.08 497.8 361.08C498.39 361.08 500.18 363.41 500.77 363.91C501.37 364.41 503.15 365.89 503.75 366.03C504.35 366.18 506.13 365.4 506.73 365.33C507.32 365.25 509.11 365.25 509.7 365.33C510.29 365.4 512.08 365.82 512.67 366.03C513.27 366.25 515.05 367.24 515.65 367.45C516.25 367.66 518.03 368.02 518.62 368.16C519.22 368.3 521 368.65 521.6 368.87C522.2 369.08 523.98 370.57 524.58 370.28C525.17 370 526.95 366.88 527.55 366.03C528.14 365.18 529.93 362 530.52 361.78C531.12 361.57 532.9 363.84 533.5 363.91C534.1 363.98 535.88 362.56 536.48 362.49C537.07 362.42 538.86 362.78 539.45 363.2C540.05 363.63 541.83 366.1 542.42 366.74C543.02 367.38 544.8 369.36 545.4 369.58C546 369.79 547.78 369.15 548.38 368.87C548.97 368.58 550.75 366.74 551.35 366.74C551.95 366.74 553.73 368.51 554.33 368.87C554.92 369.22 556.7 370.64 557.3 370.28C557.89 369.93 559.68 365.68 560.27 365.33C560.87 364.97 562.65 367.03 563.25 366.74C563.85 366.46 565.63 362 566.23 362.49C566.82 362.99 568.61 371.27 569.2 371.7C569.8 372.12 571.58 367.45 572.17 366.74C572.77 366.03 574.55 364.48 575.15 364.62C575.75 364.76 577.53 366.95 578.12 368.16C578.72 369.36 580.5 375.67 581.1 376.66C581.7 377.65 583.48 377.29 584.08 378.07C584.67 378.85 586.45 383.6 587.05 384.45C587.64 385.3 589.43 386.08 590.02 386.57C590.62 387.07 592.4 388.98 593 389.41C593.6 389.83 595.38 391.1 595.98 390.82C596.57 390.54 598.36 387.71 598.95 386.57C599.55 385.44 601.33 379.63 601.92 379.49C602.52 379.35 604.3 384.87 604.9 385.16C605.5 385.44 607.28 382.04 607.88 382.32C608.47 382.61 610.25 388.2 610.85 387.99C611.45 387.78 613.23 381.19 613.83 380.2C614.42 379.21 616.2 377.01 616.8 378.07C617.39 379.14 619.18 390.4 619.77 390.82C620.37 391.25 622.15 383.1 622.75 382.32C623.35 381.54 625.13 381.61 625.73 383.03C626.32 384.45 628.11 395.5 628.7 396.49C629.3 397.48 631.08 393.65 631.67 392.95C632.27 392.24 634.05 390.04 634.65 389.41C635.25 388.77 637.03 386.43 637.62 386.57C638.22 386.71 640 390.54 640.6 390.82C641.2 391.1 642.98 389.12 643.58 389.41C644.17 389.69 645.95 392.88 646.55 393.65C647.14 394.43 648.93 397.62 649.52 397.2C650.12 396.77 651.9 389.9 652.5 389.41C653.1 388.91 654.88 391.81 655.48 392.24C656.07 392.66 657.86 392.8 658.45 393.65C659.05 394.5 660.83 399.53 661.42 400.74C662.02 401.94 663.8 406.12 664.4 405.69C665 405.27 666.78 397.2 667.38 396.49C667.97 395.78 669.75 398.82 670.35 398.61C670.95 398.4 673.03 394.79 673.33 394.36" stroke="#3c3ce6" stroke-width="0.8" fill="none" stroke-linejoin="round"/>
</g>
<line x1="459.57" y1="239.4" x2="459.57" y2="427.7" stroke="#303030" stroke-width="1" stroke-dasharray="1 1.8"/>
<line x1="602.37" y1="239.4" x2="602.37" y2="427.7" stroke="#303030" stroke-width="1" stroke-dasharray="1 1.8"/>
<path d="M387.9 238.9V429.5" stroke="#8c8c8c" stroke-width="1" fill="none"/>
<path d="M383.3 429.5H673.33" stroke="#5c5c5c" stroke-width="1" fill="none"/>
<line x1="383.3" y1="365.93" x2="387.9" y2="365.93" stroke="#5c5c5c" stroke-width="1"/>
<line x1="383.3" y1="302.67" x2="387.9" y2="302.67" stroke="#5c5c5c" stroke-width="1"/>
<line x1="383.3" y1="239.4" x2="387.9" y2="239.4" stroke="#5c5c5c" stroke-width="1"/>
<text x="381.1" y="433.5" font-size="10.8" fill="#141414" text-anchor="end">0</text>
<text x="381.1" y="370.23" font-size="10.8" fill="#141414" text-anchor="end">50</text>
<text x="381.1" y="306.97" font-size="10.8" fill="#141414" text-anchor="end">100</text>
<text x="381.1" y="243.7" font-size="10.8" fill="#141414" text-anchor="end">150</text>
<text font-size="10.5" fill="#141414" text-anchor="end" transform="translate(394.2 443.7) rotate(-45)">0</text>
<text font-size="10.5" fill="#141414" text-anchor="end" transform="translate(423.95 443.7) rotate(-45)">10</text>
<text font-size="10.5" fill="#141414" text-anchor="end" transform="translate(453.7 443.7) rotate(-45)">20</text>
<text font-size="10.5" fill="#141414" text-anchor="end" transform="translate(483.45 443.7) rotate(-45)">30</text>
<text font-size="10.5" fill="#141414" text-anchor="end" transform="translate(513.2 443.7) rotate(-45)">40</text>
<text font-size="10.5" fill="#141414" text-anchor="end" transform="translate(542.95 443.7) rotate(-45)">50</text>
<text font-size="10.5" fill="#141414" text-anchor="end" transform="translate(572.7 443.7) rotate(-45)">60</text>
<text font-size="10.5" fill="#141414" text-anchor="end" transform="translate(602.45 443.7) rotate(-45)">70</text>
<text font-size="10.5" fill="#141414" text-anchor="end" transform="translate(632.2 443.7) rotate(-45)">80</text>
<text font-size="10.5" fill="#141414" text-anchor="end" transform="translate(661.95 443.7) rotate(-45)">90</text>
<path d="M390.5 429.5V434M420.5 429.5V434M450.5 429.5V434M479.5 429.5V434M509.5 429.5V434M539.5 429.5V434M569.5 429.5V434M598.5 429.5V434M628.5 429.5V434M658.5 429.5V434" stroke="#5c5c5c" stroke-width="1" fill="none"/>
<text font-size="13.6" font-weight="bold" fill="#111" text-anchor="start" transform="translate(356.4 386.4) rotate(-90)">Glutamate<tspan font-weight="normal" font-size="14" dx="4.2">(</tspan><tspan font-weight="normal" dx="0.4">μ</tspan><tspan dx="0.4">M</tspan><tspan font-weight="normal" font-size="14" dx="1.1">)</tspan></text>
<rect x="44.3" y="576.35" width="283.96" height="21.84" fill="#bdbcfa"/>
<path d="M44.3 576.35H328.26M44.3 598.19H328.26" stroke="#b0b0cc" stroke-width="0.9" stroke-dasharray="2 1.6" fill="none"/>
<clipPath id="c_pyr"><rect x="43.8" y="475.2" width="288.46" height="189.9"/></clipPath><g clip-path="url(#c_pyr)">
<path d="M49.5 606.36V581.5M47.5 581.5H51.5M52.5 586.69V559.5M50.5 559.5H54.5M55.5 585.99V506.5M53.5 506.5H57.5M58.5 583.18V543.5M56.5 543.5H60.5M61.5 582.48V533.5M59.5 533.5H63.5M64.5 584.59V520.5M62.5 520.5H66.5M67.5 586.69V560.5M65.5 560.5H69.5M70.5 588.8V557.5M68.5 557.5H72.5M73.5 585.29V564.5M71.5 564.5H75.5M76.5 583.18V570.5M74.5 570.5H78.5M79.5 585.29V564.5M77.5 564.5H81.5M82.5 588.1V564.5M80.5 564.5H84.5M84.5 580.37V565.5M82.5 565.5H86.5M87.5 585.29V566.5M85.5 566.5H89.5M90.5 587.4V570.5M88.5 570.5H92.5M93.5 584.59V555.5M91.5 555.5H95.5M96.5 585.99V553.5M94.5 553.5H98.5M99.5 586.69V559.5M97.5 559.5H101.5M102.5 586.69V567.5M100.5 567.5H104.5M105.5 587.4V531.5M103.5 531.5H107.5M108.5 588.8V540.5M106.5 540.5H110.5M111.5 589.5V541.5M109.5 541.5H113.5M114.5 592.31V540.5M112.5 540.5H116.5M117.5 581.78V527.5M115.5 527.5H119.5M120.5 572.64V544.5M118.5 544.5H122.5M123.5 582.48V544.5M121.5 544.5H125.5M126.5 579.67V534.5M124.5 534.5H128.5M129.5 574.05V527.5M127.5 527.5H131.5M132.5 571.24V533.5M130.5 533.5H134.5M135.5 571.94V524.5M133.5 524.5H137.5M138.5 576.86V518.5M136.5 518.5H140.5M141.5 588.1V547.5M139.5 547.5H143.5M144.5 581.07V542.5M142.5 542.5H146.5M147.5 575.45V548.5M145.5 548.5H149.5M150.5 574.05V538.5M148.5 538.5H152.5M153.5 572.64V542.5M151.5 542.5H155.5M156.5 575.45V552.5M154.5 552.5H158.5M159.5 571.24V527.5M157.5 527.5H161.5M162.5 567.73V540.5M160.5 540.5H164.5M165.5 566.32V526.5M163.5 526.5H167.5M168.5 554.8V517.5M166.5 517.5H170.5M171.5 564.21V528.5M169.5 528.5H173.5M173.5 569.83V528.5M171.5 528.5H175.5M176.5 576.58V521.5M174.5 521.5H178.5M179.5 572.64V530.5M177.5 530.5H181.5M182.5 567.02V523.5M180.5 523.5H184.5M185.5 560V510.5M183.5 510.5H187.5M188.5 549.88V506.5M186.5 506.5H190.5M191.5 552.27V531.5M189.5 531.5H193.5M194.5 568.43V527.5M192.5 527.5H196.5M197.5 572.64V508.5M195.5 508.5H199.5M200.5 569.83V539.5M198.5 539.5H202.5M203.5 573.35V538.5M201.5 538.5H205.5M206.5 568.43V534.5M204.5 534.5H208.5M209.5 578.26V554.5M207.5 554.5H211.5M212.5 575.45V555.5M210.5 555.5H214.5M215.5 578.26V555.5M213.5 555.5H217.5M218.5 578.97V557.5M216.5 557.5H220.5M221.5 577.56V560.5M219.5 560.5H223.5M224.5 579.67V541.5M222.5 541.5H226.5M227.5 575.45V537.5M225.5 537.5H229.5M230.5 568.43V536.5M228.5 536.5H232.5M233.5 581.07V552.5M231.5 552.5H235.5M236.5 576.86V566.5M234.5 566.5H238.5M239.5 574.75V560.5M237.5 560.5H241.5M242.5 572.64V554.5M240.5 554.5H244.5M245.5 570.54V553.5M243.5 553.5H247.5M248.5 573.35V555.5M246.5 555.5H250.5M251.5 574.05V538.5M249.5 538.5H253.5M254.5 576.16V537.5M252.5 537.5H256.5M257.5 578.26V529.5M255.5 529.5H259.5M260.5 580.37V534.5M258.5 534.5H262.5M262.5 578.97V547.5M260.5 547.5H264.5M265.5 582.48V545.5M263.5 545.5H267.5M268.5 578.26V520.5M266.5 520.5H270.5M271.5 576.86V556.5M269.5 556.5H273.5M274.5 571.24V559.5M272.5 559.5H276.5M277.5 582.48V570.5M275.5 570.5H279.5M283.5 603.55V567.5M281.5 567.5H285.5M286.5 590.91V559.5M284.5 559.5H288.5M289.5 574.05V546.5M287.5 546.5H291.5M292.5 574.75V549.5M290.5 549.5H294.5M295.5 568.43V551.5M293.5 551.5H297.5M298.5 559.72V553.5M296.5 553.5H300.5M301.5 565.62V559.5M299.5 559.5H303.5M304.5 576.58V549.5M302.5 549.5H306.5M307.5 565.62V560.5M305.5 560.5H309.5M310.5 561.83V555.5M308.5 555.5H312.5M313.5 577.28V568.5M311.5 568.5H315.5M316.5 568.15V569.5M314.5 569.5H318.5M319.5 570.26V558.5M317.5 558.5H321.5M322.5 577.28V577.5M320.5 577.5H324.5M325.5 564.64V541.5M323.5 541.5H327.5M328.5 551.99V540.5M326.5 540.5H330.5" stroke="#e61e3c" stroke-opacity="0.5" stroke-width="1.0" fill="none"/>
<path d="M49.37 606.36C49.66 604.39 51.74 588.73 52.33 586.69C52.93 584.66 54.71 586.34 55.3 585.99C55.89 585.64 57.67 583.53 58.27 583.18C58.86 582.83 60.64 582.34 61.23 582.48C61.83 582.62 63.61 584.16 64.2 584.59C64.8 585.01 66.58 586.27 67.17 586.69C67.76 587.11 69.54 588.94 70.14 588.8C70.73 588.66 72.51 585.85 73.1 585.29C73.7 584.73 75.48 583.18 76.07 583.18C76.66 583.18 78.44 584.8 79.04 585.29C79.63 585.78 81.41 588.59 82 588.1C82.6 587.61 84.38 580.65 84.97 580.37C85.56 580.09 87.34 584.59 87.94 585.29C88.53 585.99 90.31 587.47 90.91 587.4C91.5 587.33 93.28 584.73 93.87 584.59C94.47 584.45 96.25 585.78 96.84 585.99C97.43 586.2 99.21 586.62 99.81 586.69C100.4 586.76 102.18 586.62 102.77 586.69C103.37 586.76 105.15 587.18 105.74 587.4C106.33 587.61 108.11 588.59 108.71 588.8C109.3 589.01 111.08 589.15 111.67 589.5C112.27 589.85 114.05 593.09 114.64 592.31C115.23 591.54 117.01 583.74 117.61 581.78C118.2 579.81 119.98 572.57 120.57 572.64C121.17 572.71 122.95 581.78 123.54 582.48C124.14 583.18 125.92 580.51 126.51 579.67C127.1 578.83 128.88 574.89 129.48 574.05C130.07 573.21 131.85 571.45 132.44 571.24C133.04 571.03 134.82 571.38 135.41 571.94C136 572.5 137.78 575.24 138.38 576.86C138.97 578.47 140.75 587.68 141.34 588.1C141.94 588.52 143.72 582.34 144.31 581.07C144.9 579.81 146.68 576.16 147.28 575.45C147.87 574.75 149.65 574.33 150.25 574.05C150.84 573.77 152.62 572.5 153.21 572.64C153.81 572.78 155.59 575.59 156.18 575.45C156.77 575.31 158.55 572.01 159.15 571.24C159.74 570.47 161.52 568.22 162.11 567.73C162.71 567.24 164.49 567.61 165.08 566.32C165.67 565.03 167.45 555.01 168.05 554.8C168.64 554.59 170.42 562.71 171.01 564.21C171.61 565.72 173.39 568.6 173.98 569.83C174.57 571.07 176.35 576.3 176.95 576.58C177.54 576.86 179.32 573.6 179.92 572.64C180.51 571.69 182.29 568.29 182.88 567.02C183.48 565.76 185.26 561.71 185.85 560C186.44 558.29 188.22 550.66 188.82 549.88C189.41 549.11 191.19 550.42 191.78 552.27C192.38 554.13 194.16 566.39 194.75 568.43C195.34 570.47 197.12 572.5 197.72 572.64C198.31 572.78 200.09 569.76 200.68 569.83C201.28 569.9 203.06 573.49 203.65 573.35C204.24 573.21 206.02 567.94 206.62 568.43C207.21 568.92 208.99 577.56 209.59 578.26C210.18 578.97 211.96 575.45 212.55 575.45C213.15 575.45 214.93 577.91 215.52 578.26C216.11 578.61 217.89 579.04 218.49 578.97C219.08 578.9 220.86 577.49 221.45 577.56C222.05 577.63 223.83 579.88 224.42 579.67C225.01 579.46 226.79 576.58 227.39 575.45C227.98 574.33 229.76 567.87 230.35 568.43C230.95 568.99 232.73 580.23 233.32 581.07C233.91 581.92 235.69 577.49 236.29 576.86C236.88 576.23 238.66 575.17 239.26 574.75C239.85 574.33 241.63 573.07 242.22 572.64C242.82 572.22 244.6 570.47 245.19 570.54C245.78 570.61 247.56 573 248.16 573.35C248.75 573.7 250.53 573.77 251.12 574.05C251.72 574.33 253.5 575.73 254.09 576.16C254.68 576.58 256.46 577.84 257.06 578.26C257.65 578.69 259.43 580.3 260.02 580.37C260.62 580.44 262.4 578.76 262.99 578.97C263.58 579.18 265.36 582.55 265.96 582.48C266.55 582.41 268.33 578.83 268.93 578.26C269.52 577.7 271.3 577.56 271.89 576.86C272.49 576.16 274.27 570.68 274.86 571.24C275.45 571.8 277.23 580.09 277.83 582.48C278.42 584.87 280.2 593.01 280.79 595.12C281.39 597.23 283.17 603.97 283.76 603.55C284.35 603.13 286.13 593.86 286.73 590.91C287.32 587.96 289.1 575.66 289.69 574.05C290.29 572.43 292.07 575.31 292.66 574.75C293.25 574.19 295.03 569.93 295.63 568.43C296.22 566.93 298 560 298.59 559.72C299.19 559.44 300.97 563.93 301.56 565.62C302.16 567.31 303.94 576.58 304.53 576.58C305.12 576.58 306.9 567.09 307.5 565.62C308.09 564.14 309.87 560.66 310.46 561.83C311.06 562.99 312.84 576.65 313.43 577.28C314.02 577.91 315.8 568.85 316.4 568.15C316.99 567.45 318.77 569.34 319.36 570.26C319.96 571.17 321.74 577.84 322.33 577.28C322.92 576.72 324.7 567.16 325.3 564.64C325.89 562.11 327.97 553.26 328.26 551.99" stroke="#e8403f" stroke-width="0.8" fill="none" stroke-linejoin="round"/>
<path d="M49.5 575V619.5M47.5 619.5H51.5M52.5 618V631.5M50.5 631.5H54.5M55.5 592.31V617.5M53.5 617.5H57.5M58.5 599.34V616.5M56.5 616.5H60.5M61.5 585.29V619.5M59.5 619.5H63.5M64.5 576.16V618.5M62.5 618.5H66.5M67.5 578.26V624.5M65.5 624.5H69.5M70.5 571.24V614.5M68.5 614.5H72.5M73.5 568.43V618.5M71.5 618.5H75.5M76.5 572.64V608.5M74.5 608.5H78.5M79.5 578.26V613.5M77.5 613.5H81.5M82.5 561.4V613.5M80.5 613.5H84.5M84.5 569.83V614.5M82.5 614.5H86.5M87.5 568.43V604.5M85.5 604.5H89.5M90.5 588.1V617.5M88.5 617.5H92.5M93.5 562.81V616.5M91.5 616.5H95.5M96.5 564.21V610.5M94.5 610.5H98.5M99.5 574.05V612.5M97.5 612.5H101.5M102.5 557V601.5M100.5 601.5H104.5M105.5 565.62V598.5M103.5 598.5H107.5M108.5 575.45V598.5M106.5 598.5H110.5M111.5 571.24V594.5M109.5 594.5H113.5M114.5 568.43V592.5M112.5 592.5H116.5M117.5 562.81V590.5M115.5 590.5H119.5M120.5 561.4V587.5M118.5 587.5H122.5M123.5 562.11V591.5M121.5 591.5H125.5M126.5 564.21V587.5M124.5 587.5H128.5M129.5 566.32V596.5M127.5 596.5H131.5M132.5 571.94V589.5M130.5 589.5H134.5M135.5 573.35V596.5M133.5 596.5H137.5M138.5 568.43V598.5M136.5 598.5H140.5M141.5 561.4V592.5M139.5 592.5H143.5M144.5 564.21V598.5M142.5 598.5H146.5M147.5 560V588.5M145.5 588.5H149.5M150.5 565.62V592.5M148.5 592.5H152.5M153.5 566.32V599.5M151.5 599.5H155.5M156.5 566.32V600.5M154.5 600.5H158.5M159.5 562.11V598.5M157.5 598.5H161.5M162.5 564.92V601.5M160.5 601.5H164.5M165.5 565.62V604.5M163.5 604.5H167.5M168.5 575.45V597.5M166.5 597.5H170.5M171.5 572.64V602.5M169.5 602.5H173.5M173.5 575.45V609.5M171.5 609.5H175.5M176.5 583.18V603.5M174.5 603.5H178.5M179.5 581.07V607.5M177.5 607.5H181.5M182.5 575.45V605.5M180.5 605.5H184.5M185.5 571.94V605.5M183.5 605.5H187.5M188.5 569.13V605.5M186.5 605.5H190.5M191.5 566.32V592.5M189.5 592.5H193.5M194.5 573.35V595.5M192.5 595.5H196.5M197.5 570.54V590.5M195.5 590.5H199.5M200.5 574.05V595.5M198.5 595.5H202.5M203.5 579.67V596.5M201.5 596.5H205.5M206.5 584.59V606.5M204.5 606.5H208.5M209.5 578.97V591.5M207.5 591.5H211.5M212.5 585.99V608.5M210.5 608.5H214.5M215.5 583.88V599.5M213.5 599.5H217.5M218.5 578.26V590.5M216.5 590.5H220.5M221.5 573.35V590.5M219.5 590.5H223.5M224.5 578.26V594.5M222.5 594.5H226.5M227.5 579.67V604.5M225.5 604.5H229.5M230.5 565.62V598.5M228.5 598.5H232.5M233.5 574.75V614.5M231.5 614.5H235.5M236.5 571.24V606.5M234.5 606.5H238.5M239.5 570.54V607.5M237.5 607.5H241.5M242.5 567.73V610.5M240.5 610.5H244.5M245.5 565.62V601.5M243.5 601.5H247.5M248.5 571.24V605.5M246.5 605.5H250.5M251.5 573.35V591.5M249.5 591.5H253.5M254.5 581.07V590.5M252.5 590.5H256.5M257.5 585.99V610.5M255.5 610.5H259.5M260.5 581.07V610.5M258.5 610.5H262.5M262.5 578.26V603.5M260.5 603.5H264.5M265.5 574.75V593.5M263.5 593.5H267.5M268.5 581.78V593.5M266.5 593.5H270.5M271.5 577.56V600.5M269.5 600.5H273.5M274.5 562.81V593.5M272.5 593.5H276.5M277.5 581.07V603.5M275.5 603.5H279.5M280.5 585.99V602.5M278.5 602.5H282.5M283.5 579.67V609.5M281.5 609.5H285.5M286.5 576.86V592.5M284.5 592.5H288.5M289.5 575.45V604.5M287.5 604.5H291.5M292.5 602.15V619.5M290.5 619.5H294.5M295.5 599.34V616.5M293.5 616.5H297.5M298.5 593.01V617.5M296.5 617.5H300.5M301.5 597.93V612.5M299.5 612.5H303.5M304.5 605.66V619.5M302.5 619.5H306.5M307.5 600.74V614.5M305.5 614.5H309.5M310.5 596.53V613.5M308.5 613.5H312.5M313.5 595.12V604.5M311.5 604.5H315.5M316.5 590.91V619.5M314.5 619.5H318.5M319.5 595.82V615.5M317.5 615.5H321.5M322.5 600.74V614.5M320.5 614.5H324.5M325.5 595.12V608.5M323.5 608.5H327.5M328.5 591.61V610.5M326.5 610.5H330.5" stroke="#3418e6" stroke-opacity="0.5" stroke-width="1.0" fill="none"/>
<path d="M46.4 508.5C46.7 515.15 48.77 564.05 49.37 575C49.96 585.95 51.74 616.27 52.33 618C52.93 619.73 54.71 594.18 55.3 592.31C55.89 590.45 57.67 600.04 58.27 599.34C58.86 598.63 60.64 587.61 61.23 585.29C61.83 582.97 63.61 576.86 64.2 576.16C64.8 575.45 66.58 578.76 67.17 578.26C67.76 577.77 69.54 572.22 70.14 571.24C70.73 570.26 72.51 568.29 73.1 568.43C73.7 568.57 75.48 571.66 76.07 572.64C76.66 573.63 78.44 579.39 79.04 578.26C79.63 577.14 81.41 562.25 82 561.4C82.6 560.56 84.38 569.13 84.97 569.83C85.56 570.54 87.34 566.6 87.94 568.43C88.53 570.26 90.31 588.66 90.91 588.1C91.5 587.54 93.28 565.2 93.87 562.81C94.47 560.42 96.25 563.09 96.84 564.21C97.43 565.34 99.21 574.77 99.81 574.05C100.4 573.33 102.18 557.84 102.77 557C103.37 556.16 105.15 563.77 105.74 565.62C106.33 567.46 108.11 574.89 108.71 575.45C109.3 576.02 111.08 571.94 111.67 571.24C112.27 570.54 114.05 569.27 114.64 568.43C115.23 567.59 117.01 563.51 117.61 562.81C118.2 562.11 119.98 561.48 120.57 561.4C121.17 561.33 122.95 561.83 123.54 562.11C124.14 562.39 125.92 563.79 126.51 564.21C127.1 564.64 128.88 565.55 129.48 566.32C130.07 567.09 131.85 571.24 132.44 571.94C133.04 572.64 134.82 573.7 135.41 573.35C136 573 137.78 569.62 138.38 568.43C138.97 567.24 140.75 561.83 141.34 561.4C141.94 560.98 143.72 564.36 144.31 564.21C144.9 564.07 146.68 559.86 147.28 560C147.87 560.14 149.65 564.99 150.25 565.62C150.84 566.25 152.62 566.25 153.21 566.32C153.81 566.39 155.59 566.74 156.18 566.32C156.77 565.9 158.55 562.25 159.15 562.11C159.74 561.97 161.52 564.57 162.11 564.92C162.71 565.27 164.49 564.57 165.08 565.62C165.67 566.67 167.45 574.75 168.05 575.45C168.64 576.16 170.42 572.64 171.01 572.64C171.61 572.64 173.39 574.4 173.98 575.45C174.57 576.51 176.35 582.62 176.95 583.18C177.54 583.74 179.32 581.85 179.92 581.07C180.51 580.3 182.29 576.37 182.88 575.45C183.48 574.54 185.26 572.57 185.85 571.94C186.44 571.31 188.22 569.69 188.82 569.13C189.41 568.57 191.19 565.9 191.78 566.32C192.38 566.74 194.16 572.92 194.75 573.35C195.34 573.77 197.12 570.47 197.72 570.54C198.31 570.61 200.09 573.14 200.68 574.05C201.28 574.96 203.06 578.61 203.65 579.67C204.24 580.72 206.02 584.66 206.62 584.59C207.21 584.52 208.99 578.83 209.59 578.97C210.18 579.11 211.96 585.5 212.55 585.99C213.15 586.48 214.93 584.66 215.52 583.88C216.11 583.11 217.89 579.32 218.49 578.26C219.08 577.21 220.86 573.35 221.45 573.35C222.05 573.35 223.83 577.63 224.42 578.26C225.01 578.9 226.79 580.93 227.39 579.67C227.98 578.4 229.76 566.11 230.35 565.62C230.95 565.13 232.73 574.19 233.32 574.75C233.91 575.31 235.69 571.66 236.29 571.24C236.88 570.82 238.66 570.89 239.26 570.54C239.85 570.19 241.63 568.22 242.22 567.73C242.82 567.24 244.6 565.27 245.19 565.62C245.78 565.97 247.56 570.47 248.16 571.24C248.75 572.01 250.53 572.36 251.12 573.35C251.72 574.33 253.5 579.81 254.09 581.07C254.68 582.34 256.46 585.99 257.06 585.99C257.65 585.99 259.43 581.85 260.02 581.07C260.62 580.3 262.4 578.9 262.99 578.26C263.58 577.63 265.36 574.4 265.96 574.75C266.55 575.1 268.33 581.49 268.93 581.78C269.52 582.06 271.3 579.46 271.89 577.56C272.49 575.66 274.27 562.46 274.86 562.81C275.45 563.16 277.23 578.76 277.83 581.07C278.42 583.39 280.2 586.13 280.79 585.99C281.39 585.85 283.17 580.58 283.76 579.67C284.35 578.76 286.13 577.28 286.73 576.86C287.32 576.44 289.1 572.92 289.69 575.45C290.29 577.98 292.07 599.76 292.66 602.15C293.25 604.53 295.03 600.25 295.63 599.34C296.22 598.42 298 593.16 298.59 593.01C299.19 592.87 300.97 596.67 301.56 597.93C302.16 599.2 303.94 605.38 304.53 605.66C305.12 605.94 306.9 601.65 307.5 600.74C308.09 599.83 309.87 597.09 310.46 596.53C311.06 595.97 312.84 595.68 313.43 595.12C314.02 594.56 315.8 590.84 316.4 590.91C316.99 590.98 318.77 594.84 319.36 595.82C319.96 596.81 321.74 600.81 322.33 600.74C322.92 600.67 324.7 596.04 325.3 595.12C325.89 594.21 327.97 591.96 328.26 591.61" stroke="#3c3ce6" stroke-width="0.8" fill="none" stroke-linejoin="round"/>
</g>
<line x1="115.09" y1="475.2" x2="115.09" y2="663.6" stroke="#303030" stroke-width="1" stroke-dasharray="1 1.8"/>
<line x1="257.5" y1="475.2" x2="257.5" y2="663.6" stroke="#303030" stroke-width="1" stroke-dasharray="1 1.8"/>
<path d="M43.8 474.7V665.5" stroke="#8c8c8c" stroke-width="1" fill="none"/>
<path d="M39.2 665.5H328.26" stroke="#5c5c5c" stroke-width="1" fill="none"/>
<line x1="39.2" y1="617.62" x2="43.8" y2="617.62" stroke="#5c5c5c" stroke-width="1"/>
<line x1="39.2" y1="570.15" x2="43.8" y2="570.15" stroke="#5c5c5c" stroke-width="1"/>
<line x1="39.2" y1="522.67" x2="43.8" y2="522.67" stroke="#5c5c5c" stroke-width="1"/>
<line x1="39.2" y1="475.2" x2="43.8" y2="475.2" stroke="#5c5c5c" stroke-width="1"/>
<text x="37" y="669.4" font-size="10.8" fill="#141414" text-anchor="end">0</text>
<text x="37" y="621.92" font-size="10.8" fill="#141414" text-anchor="end">50</text>
<text x="37" y="574.45" font-size="10.8" fill="#141414" text-anchor="end">100</text>
<text x="37" y="526.97" font-size="10.8" fill="#141414" text-anchor="end">150</text>
<text x="37" y="479.5" font-size="10.8" fill="#141414" text-anchor="end">200</text>
<text font-size="10.5" fill="#141414" text-anchor="end" transform="translate(49.9 679.6) rotate(-45)">0</text>
<text font-size="10.5" fill="#141414" text-anchor="end" transform="translate(79.57 679.6) rotate(-45)">10</text>
<text font-size="10.5" fill="#141414" text-anchor="end" transform="translate(109.24 679.6) rotate(-45)">20</text>
<text font-size="10.5" fill="#141414" text-anchor="end" transform="translate(138.91 679.6) rotate(-45)">30</text>
<text font-size="10.5" fill="#141414" text-anchor="end" transform="translate(168.58 679.6) rotate(-45)">40</text>
<text font-size="10.5" fill="#141414" text-anchor="end" transform="translate(198.25 679.6) rotate(-45)">50</text>
<text font-size="10.5" fill="#141414" text-anchor="end" transform="translate(227.92 679.6) rotate(-45)">60</text>
<text font-size="10.5" fill="#141414" text-anchor="end" transform="translate(257.59 679.6) rotate(-45)">70</text>
<text font-size="10.5" fill="#141414" text-anchor="end" transform="translate(287.26 679.6) rotate(-45)">80</text>
<text font-size="10.5" fill="#141414" text-anchor="end" transform="translate(316.93 679.6) rotate(-45)">90</text>
<path d="M46.5 665.5V670M76.5 665.5V670M105.5 665.5V670M135.5 665.5V670M165.5 665.5V670M194.5 665.5V670M224.5 665.5V670M254.5 665.5V670M283.5 665.5V670M313.5 665.5V670" stroke="#5c5c5c" stroke-width="1" fill="none"/>
<text font-size="13.6" font-weight="bold" fill="#111" text-anchor="start" transform="translate(10.4 618.3) rotate(-90)">Pyruvate<tspan font-weight="normal" font-size="14" dx="4.2">(</tspan><tspan font-weight="normal" dx="0.4">μ</tspan><tspan dx="0.4">M</tspan><tspan font-weight="normal" font-size="14" dx="1.1">)</tspan></text>
<text x="187.03" y="706" font-size="13.95" font-weight="bold" fill="#111" text-anchor="middle">Hours since Randomization</text>
<rect x="394.7" y="589.68" width="284.66" height="25.31" fill="#bdbcfa"/>
<path d="M394.7 589.68H679.36M394.7 614.99H679.36" stroke="#b0b0cc" stroke-width="0.9" stroke-dasharray="2 1.6" fill="none"/>
<clipPath id="c_glc"><rect x="394.2" y="475.3" width="289.16" height="189.8"/></clipPath><g clip-path="url(#c_glc)">
<path d="M400.5 603.65V577.5M398.5 577.5H402.5M403.5 568.24V551.5M401.5 551.5H405.5M406.5 583.82V560.5M404.5 560.5H408.5M409.5 594.45V558.5M407.5 558.5H411.5M412.5 596.57V566.5M410.5 566.5H414.5M415.5 591.61V577.5M413.5 577.5H417.5M418.5 591.61V577.5M416.5 577.5H420.5M421.5 595.86V585.5M419.5 585.5H423.5M424.5 597.99V587.5M422.5 587.5H426.5M427.5 598.7V583.5M425.5 583.5H429.5M430.5 593.03V585.5M428.5 585.5H432.5M433.5 588.07V580.5M431.5 580.5H435.5M435.5 587.37V580.5M433.5 580.5H437.5M438.5 588.78V577.5M436.5 577.5H440.5M441.5 592.32V577.5M439.5 577.5H443.5M444.5 589.49V577.5M442.5 577.5H446.5M447.5 588.07V579.5M445.5 579.5H449.5M450.5 585.95V582.5M448.5 582.5H452.5M453.5 588.07V562.5M451.5 562.5H455.5M456.5 589.49V561.5M454.5 561.5H458.5M459.5 586.66V570.5M457.5 570.5H461.5M462.5 589.49V569.5M460.5 569.5H464.5M465.5 588.78V569.5M463.5 569.5H467.5M468.5 585.95V569.5M466.5 569.5H470.5M471.5 588.07V573.5M469.5 573.5H473.5M474.5 590.91V569.5M472.5 569.5H476.5M477.5 585.24V561.5M475.5 561.5H479.5M480.5 582.41V563.5M478.5 563.5H482.5M483.5 580.28V563.5M481.5 563.5H485.5M486.5 582.41V563.5M484.5 563.5H488.5M489.5 585.24V560.5M487.5 560.5H491.5M492.5 581.7V563.5M490.5 563.5H494.5M495.5 578.16V567.5M493.5 567.5H497.5M498.5 580.28V562.5M496.5 562.5H500.5M501.5 583.12V564.5M499.5 564.5H503.5M504.5 578.16V572.5M502.5 572.5H506.5M507.5 576.03V566.5M505.5 566.5H509.5M510.5 576.74V561.5M508.5 561.5H512.5M513.5 576.03V552.5M511.5 552.5H515.5M516.5 576.03V562.5M514.5 562.5H518.5M519.5 576.03V558.5M517.5 558.5H521.5M522.5 575.33V564.5M520.5 564.5H524.5M525.5 573.91V561.5M523.5 561.5H527.5M527.5 568.24V558.5M525.5 558.5H529.5M530.5 572.49V557.5M528.5 557.5H532.5M533.5 571.78V550.5M531.5 550.5H535.5M536.5 574.62V552.5M534.5 552.5H538.5M539.5 577.45V555.5M537.5 555.5H541.5M542.5 580.28V560.5M540.5 560.5H544.5M545.5 584.53V570.5M543.5 570.5H547.5M548.5 587.37V563.5M546.5 563.5H550.5M551.5 590.91V563.5M549.5 563.5H553.5M554.5 593.03V564.5M552.5 564.5H556.5M557.5 590.2V552.5M555.5 552.5H559.5M560.5 585.24V561.5M558.5 561.5H562.5M563.5 576.74V549.5M561.5 549.5H565.5M566.5 566.83V548.5M564.5 548.5H568.5M569.5 568.95V561.5M567.5 561.5H571.5M572.5 573.91V564.5M570.5 564.5H574.5M575.5 572.49V556.5M573.5 556.5H577.5M578.5 571.08V560.5M576.5 560.5H580.5M581.5 568.95V547.5M579.5 547.5H583.5M584.5 566.12V552.5M582.5 552.5H586.5M587.5 571.32V546.5M585.5 546.5H589.5M590.5 561.98V556.5M588.5 556.5H592.5M593.5 555.75V551.5M591.5 551.5H595.5M596.5 554.19V548.5M594.5 548.5H598.5M599.5 552.63V543.5M597.5 543.5H601.5M602.5 549.52V546.5M600.5 546.5H604.5M605.5 558.86V554.5M603.5 554.5H607.5M608.5 561.98V554.5M606.5 554.5H610.5M611.5 563.54V554.5M609.5 554.5H613.5M614.5 566.65V554.5M612.5 554.5H616.5M617.5 563.54V554.5M615.5 554.5H619.5M620.5 563.54V550.5M618.5 550.5H622.5M622.5 562.76V551.5M620.5 551.5H624.5M625.5 565.09V543.5M623.5 543.5H627.5M628.5 572.1V547.5M626.5 547.5H630.5M631.5 569.77V541.5M629.5 541.5H633.5M634.5 571.32V546.5M632.5 546.5H636.5M637.5 569.77V550.5M635.5 550.5H639.5M640.5 565.87V553.5M638.5 553.5H642.5M643.5 560.42V548.5M641.5 548.5H645.5M646.5 555.75V549.5M644.5 549.5H648.5M649.5 564.31V550.5M647.5 550.5H651.5M652.5 551.07V542.5M650.5 542.5H654.5M655.5 554.19V546.5M653.5 546.5H657.5M658.5 561.98V546.5M656.5 546.5H660.5M661.5 558.86V519.5M659.5 519.5H663.5M664.5 561.98V519.5M662.5 519.5H666.5M667.5 560.42V511.5M665.5 511.5H669.5M670.5 574.44V533.5M668.5 533.5H672.5M673.5 579.11V506.5M671.5 506.5H675.5M676.5 566.65V511.5M674.5 511.5H678.5M679.5 557.31V498.5M677.5 498.5H681.5" stroke="#e61e3c" stroke-opacity="0.5" stroke-width="1.0" fill="none"/>
<path d="M400.37 603.65C400.66 600.11 402.74 570.23 403.34 568.24C403.93 566.26 405.71 581.2 406.3 583.82C406.9 586.44 408.68 593.17 409.27 594.45C409.87 595.72 411.65 596.86 412.24 596.57C412.83 596.29 414.61 592.11 415.21 591.61C415.8 591.12 417.58 591.19 418.18 591.61C418.77 592.04 420.55 595.23 421.14 595.86C421.74 596.5 423.52 597.71 424.11 597.99C424.71 598.27 426.49 599.19 427.08 598.7C427.67 598.2 429.45 594.09 430.05 593.03C430.64 591.97 432.42 588.64 433.02 588.07C433.61 587.51 435.39 587.29 435.98 587.37C436.58 587.44 438.36 588.29 438.95 588.78C439.55 589.28 441.33 592.25 441.92 592.32C442.51 592.39 444.29 589.92 444.89 589.49C445.48 589.07 447.26 588.43 447.86 588.07C448.45 587.72 450.23 585.95 450.82 585.95C451.42 585.95 453.2 587.72 453.79 588.07C454.39 588.43 456.17 589.63 456.76 589.49C457.35 589.35 459.13 586.66 459.73 586.66C460.32 586.66 462.1 589.28 462.7 589.49C463.29 589.7 465.07 589.14 465.66 588.78C466.26 588.43 468.04 586.02 468.63 585.95C469.23 585.88 471.01 587.58 471.6 588.07C472.19 588.57 473.97 591.19 474.57 590.91C475.16 590.62 476.94 586.09 477.54 585.24C478.13 584.39 479.91 582.9 480.5 582.41C481.1 581.91 482.88 580.28 483.47 580.28C484.07 580.28 485.85 581.91 486.44 582.41C487.03 582.9 488.81 585.31 489.41 585.24C490 585.17 491.78 582.41 492.38 581.7C492.97 580.99 494.75 578.3 495.34 578.16C495.94 578.02 497.72 579.79 498.31 580.28C498.91 580.78 500.69 583.33 501.28 583.12C501.87 582.9 503.65 578.87 504.25 578.16C504.84 577.45 506.62 576.18 507.22 576.03C507.81 575.89 509.59 576.74 510.18 576.74C510.78 576.74 512.56 576.1 513.15 576.03C513.75 575.96 515.53 576.03 516.12 576.03C516.71 576.03 518.49 576.1 519.09 576.03C519.68 575.96 521.46 575.54 522.06 575.33C522.65 575.11 524.43 574.62 525.02 573.91C525.62 573.2 527.4 568.39 527.99 568.24C528.59 568.1 530.37 572.14 530.96 572.49C531.55 572.85 533.33 571.57 533.93 571.78C534.52 572 536.3 574.05 536.9 574.62C537.49 575.18 539.27 576.88 539.86 577.45C540.46 578.02 542.24 579.58 542.83 580.28C543.43 580.99 545.21 583.82 545.8 584.53C546.39 585.24 548.17 586.73 548.77 587.37C549.36 588 551.14 590.34 551.74 590.91C552.33 591.47 554.11 593.1 554.7 593.03C555.3 592.96 557.08 590.98 557.67 590.2C558.27 589.42 560.05 586.59 560.64 585.24C561.23 583.9 563.01 578.58 563.61 576.74C564.2 574.9 565.98 567.61 566.58 566.83C567.17 566.05 568.95 568.24 569.54 568.95C570.14 569.66 571.92 573.56 572.51 573.91C573.11 574.26 574.89 572.78 575.48 572.49C576.07 572.21 577.85 571.43 578.45 571.08C579.04 570.72 580.82 569.45 581.42 568.95C582.01 568.46 583.79 565.88 584.38 566.12C584.98 566.36 586.76 571.74 587.35 571.32C587.95 570.91 589.73 563.54 590.32 561.98C590.91 560.42 592.69 556.53 593.29 555.75C593.88 554.97 595.66 554.5 596.26 554.19C596.85 553.88 598.63 553.1 599.22 552.63C599.82 552.17 601.6 548.89 602.19 549.52C602.79 550.14 604.57 557.62 605.16 558.86C605.75 560.11 607.53 561.51 608.13 561.98C608.72 562.45 610.5 563.07 611.1 563.54C611.69 564 613.47 566.65 614.06 566.65C614.66 566.65 616.44 563.85 617.03 563.54C617.63 563.22 619.41 563.61 620 563.54C620.59 563.46 622.37 562.6 622.97 562.76C623.56 562.91 625.34 564.16 625.94 565.09C626.53 566.03 628.31 571.64 628.9 572.1C629.5 572.57 631.28 569.84 631.87 569.77C632.47 569.69 634.25 571.32 634.84 571.32C635.43 571.32 637.21 570.31 637.81 569.77C638.4 569.22 640.18 566.81 640.78 565.87C641.37 564.94 643.15 561.43 643.74 560.42C644.34 559.41 646.12 555.36 646.71 555.75C647.31 556.14 649.09 564.78 649.68 564.31C650.27 563.85 652.05 552.09 652.65 551.07C653.24 550.06 655.02 553.1 655.62 554.19C656.21 555.28 657.99 561.51 658.58 561.98C659.18 562.45 660.96 558.86 661.55 558.86C662.15 558.86 663.93 561.82 664.52 561.98C665.11 562.13 666.89 559.17 667.49 560.42C668.08 561.67 669.86 572.57 670.46 574.44C671.05 576.31 672.83 579.89 673.42 579.11C674.02 578.33 675.8 568.83 676.39 566.65C676.99 564.47 679.06 558.24 679.36 557.31" stroke="#e8403f" stroke-width="0.8" fill="none" stroke-linejoin="round"/>
<path d="M400.5 576.74V592.5M398.5 592.5H402.5M403.5 588.07V600.5M401.5 600.5H405.5M406.5 595.86V597.5M404.5 597.5H408.5M409.5 589.49V597.5M407.5 597.5H411.5M412.5 573.2V609.5M410.5 609.5H414.5M415.5 580.99V609.5M413.5 609.5H417.5M418.5 586.66V617.5M416.5 617.5H420.5M421.5 583.82V609.5M419.5 609.5H423.5M424.5 582.41V622.5M422.5 622.5H426.5M427.5 583.82V613.5M425.5 613.5H429.5M430.5 593.74V617.5M428.5 617.5H432.5M433.5 589.49V620.5M431.5 620.5H435.5M435.5 587.37V613.5M433.5 613.5H437.5M438.5 586.66V608.5M436.5 608.5H440.5M441.5 588.07V602.5M439.5 602.5H443.5M444.5 586.66V603.5M442.5 603.5H446.5M447.5 582.41V598.5M445.5 598.5H449.5M450.5 585.95V600.5M448.5 600.5H452.5M453.5 583.82V593.5M451.5 593.5H455.5M456.5 584.53V598.5M454.5 598.5H458.5M459.5 586.66V592.5M457.5 592.5H461.5M462.5 587.37V595.5M460.5 595.5H464.5M465.5 580.99V594.5M463.5 594.5H467.5M468.5 580.28V591.5M466.5 591.5H470.5M471.5 584.53V594.5M469.5 594.5H473.5M474.5 584.53V602.5M472.5 602.5H476.5M477.5 580.99V598.5M475.5 598.5H479.5M480.5 578.16V595.5M478.5 595.5H482.5M483.5 579.58V586.5M481.5 586.5H485.5M486.5 583.12V591.5M484.5 591.5H488.5M489.5 576.03V589.5M487.5 589.5H491.5M492.5 574.62V582.5M490.5 582.5H494.5M495.5 571.08V580.5M493.5 580.5H497.5M498.5 578.16V584.5M496.5 584.5H500.5M501.5 582.41V587.5M499.5 587.5H503.5M504.5 578.16V587.5M502.5 587.5H506.5M507.5 576.03V589.5M505.5 589.5H509.5M510.5 573.91V589.5M508.5 589.5H512.5M513.5 575.33V589.5M511.5 589.5H515.5M516.5 576.03V593.5M514.5 593.5H518.5M519.5 575.33V592.5M517.5 592.5H521.5M522.5 580.28V592.5M520.5 592.5H524.5M525.5 574.62V592.5M523.5 592.5H527.5M527.5 573.91V591.5M525.5 591.5H529.5M530.5 581.7V594.5M528.5 594.5H532.5M533.5 574.62V589.5M531.5 589.5H535.5M536.5 577.45V588.5M534.5 588.5H538.5M539.5 582.41V599.5M537.5 599.5H541.5M542.5 580.28V589.5M540.5 589.5H544.5M545.5 583.12V587.5M543.5 587.5H547.5M548.5 567.54V589.5M546.5 589.5H550.5M551.5 575.33V591.5M549.5 591.5H553.5M554.5 583.82V589.5M552.5 589.5H556.5M557.5 584.53V595.5M555.5 595.5H559.5M560.5 584.53V589.5M558.5 589.5H562.5M563.5 583.12V594.5M561.5 594.5H565.5M566.5 579.58V594.5M564.5 594.5H568.5M569.5 578.87V589.5M567.5 589.5H571.5M572.5 576.74V589.5M570.5 589.5H574.5M575.5 573.2V588.5M573.5 588.5H577.5M578.5 578.87V590.5M576.5 590.5H580.5M581.5 578.87V589.5M579.5 589.5H583.5M584.5 578.16V593.5M582.5 593.5H586.5M587.5 583.79V595.5M585.5 595.5H589.5M590.5 573.66V589.5M588.5 589.5H592.5M593.5 584.56V595.5M591.5 595.5H595.5M596.5 579.89V590.5M594.5 590.5H598.5M599.5 572.88V593.5M597.5 593.5H601.5M602.5 576.78V585.5M600.5 585.5H604.5M605.5 580.67V593.5M603.5 593.5H607.5M608.5 577.55V585.5M606.5 585.5H610.5M611.5 573.66V593.5M609.5 593.5H613.5M614.5 568.99V593.5M612.5 593.5H616.5M617.5 577.55V581.5M615.5 581.5H619.5M620.5 583.01V585.5M618.5 585.5H622.5M622.5 583.01V587.5M620.5 587.5H624.5M625.5 582.23V587.5M623.5 587.5H627.5M628.5 577.55V588.5M626.5 588.5H630.5M631.5 571.32V581.5M629.5 581.5H633.5M634.5 572.1V593.5M632.5 593.5H636.5M637.5 568.21V594.5M635.5 594.5H639.5M640.5 565.09V594.5M638.5 594.5H642.5M643.5 553.41V583.5M641.5 583.5H645.5M646.5 557.31V571.5M644.5 571.5H648.5M649.5 537.06V560.5M647.5 560.5H651.5M652.5 554.19V561.5M650.5 561.5H654.5M655.5 561.2V593.5M653.5 593.5H657.5M658.5 568.21V599.5M656.5 599.5H660.5M661.5 572.88V583.5M659.5 583.5H663.5M664.5 577.55V587.5M662.5 587.5H666.5M667.5 580.67V595.5M665.5 595.5H669.5M670.5 574.44V580.5M668.5 580.5H672.5M673.5 570.55V580.5M671.5 580.5H675.5M676.5 560.42V580.5M674.5 580.5H678.5M679.5 550.3V583.5M677.5 583.5H681.5" stroke="#3418e6" stroke-opacity="0.5" stroke-width="1.0" fill="none"/>
<path d="M397.4 563.29C397.7 564.63 399.77 574.26 400.37 576.74C400.96 579.22 402.74 586.16 403.34 588.07C403.93 589.99 405.71 595.72 406.3 595.86C406.9 596.01 408.68 591.76 409.27 589.49C409.87 587.22 411.65 574.05 412.24 573.2C412.83 572.35 414.61 579.65 415.21 580.99C415.8 582.34 417.58 586.37 418.18 586.66C418.77 586.94 420.55 584.25 421.14 583.82C421.74 583.4 423.52 582.41 424.11 582.41C424.71 582.41 426.49 582.69 427.08 583.82C427.67 584.96 429.45 593.17 430.05 593.74C430.64 594.31 432.42 590.13 433.02 589.49C433.61 588.85 435.39 587.65 435.98 587.37C436.58 587.08 438.36 586.59 438.95 586.66C439.55 586.73 441.33 588.07 441.92 588.07C442.51 588.07 444.29 587.22 444.89 586.66C445.48 586.09 447.26 582.48 447.86 582.41C448.45 582.34 450.23 585.81 450.82 585.95C451.42 586.09 453.2 583.97 453.79 583.82C454.39 583.68 456.17 584.25 456.76 584.53C457.35 584.82 459.13 586.37 459.73 586.66C460.32 586.94 462.1 587.93 462.7 587.37C463.29 586.8 465.07 581.7 465.66 580.99C466.26 580.28 468.04 579.93 468.63 580.28C469.23 580.64 471.01 584.11 471.6 584.53C472.19 584.96 473.97 584.89 474.57 584.53C475.16 584.18 476.94 581.63 477.54 580.99C478.13 580.35 479.91 578.3 480.5 578.16C481.1 578.02 482.88 579.08 483.47 579.58C484.07 580.07 485.85 583.47 486.44 583.12C487.03 582.76 488.81 576.88 489.41 576.03C490 575.18 491.78 575.11 492.38 574.62C492.97 574.12 494.75 570.72 495.34 571.08C495.94 571.43 497.72 577.03 498.31 578.16C498.91 579.29 500.69 582.41 501.28 582.41C501.87 582.41 503.65 578.8 504.25 578.16C504.84 577.52 506.62 576.46 507.22 576.03C507.81 575.61 509.59 573.98 510.18 573.91C510.78 573.84 512.56 575.11 513.15 575.33C513.75 575.54 515.53 576.03 516.12 576.03C516.71 576.03 518.49 574.9 519.09 575.33C519.68 575.75 521.46 580.35 522.06 580.28C522.65 580.21 524.43 575.25 525.02 574.62C525.62 573.98 527.4 573.2 527.99 573.91C528.59 574.62 530.37 581.63 530.96 581.7C531.55 581.77 533.33 575.04 533.93 574.62C534.52 574.19 536.3 576.67 536.9 577.45C537.49 578.23 539.27 582.12 539.86 582.41C540.46 582.69 542.24 580.21 542.83 580.28C543.43 580.35 545.21 584.39 545.8 583.12C546.39 581.84 548.17 568.31 548.77 567.54C549.36 566.76 551.14 573.7 551.74 575.33C552.33 576.95 554.11 582.9 554.7 583.82C555.3 584.75 557.08 584.46 557.67 584.53C558.27 584.6 560.05 584.67 560.64 584.53C561.23 584.39 563.01 583.61 563.61 583.12C564.2 582.62 565.98 580 566.58 579.58C567.17 579.15 568.95 579.15 569.54 578.87C570.14 578.58 571.92 577.31 572.51 576.74C573.11 576.18 574.89 572.99 575.48 573.2C576.07 573.41 577.85 578.3 578.45 578.87C579.04 579.43 580.82 578.94 581.42 578.87C582.01 578.8 583.79 577.67 584.38 578.16C584.98 578.65 586.76 584.23 587.35 583.79C587.95 583.34 589.73 573.58 590.32 573.66C590.91 573.74 592.69 583.94 593.29 584.56C593.88 585.19 595.66 581.06 596.26 579.89C596.85 578.72 598.63 573.19 599.22 572.88C599.82 572.57 601.6 576 602.19 576.78C602.79 577.55 604.57 580.59 605.16 580.67C605.75 580.75 607.53 578.26 608.13 577.55C608.72 576.85 610.5 574.52 611.1 573.66C611.69 572.8 613.47 568.6 614.06 568.99C614.66 569.38 616.44 576.15 617.03 577.55C617.63 578.96 619.41 582.46 620 583.01C620.59 583.55 622.37 583.08 622.97 583.01C623.56 582.93 625.34 582.77 625.94 582.23C626.53 581.68 628.31 578.64 628.9 577.55C629.5 576.46 631.28 571.87 631.87 571.32C632.47 570.78 634.25 572.41 634.84 572.1C635.43 571.79 637.21 568.91 637.81 568.21C638.4 567.51 640.18 566.57 640.78 565.09C641.37 563.61 643.15 554.19 643.74 553.41C644.34 552.63 646.12 558.94 646.71 557.31C647.31 555.67 649.09 537.37 649.68 537.06C650.27 536.74 652.05 551.78 652.65 554.19C653.24 556.6 655.02 559.8 655.62 561.2C656.21 562.6 657.99 567.04 658.58 568.21C659.18 569.38 660.96 571.95 661.55 572.88C662.15 573.82 663.93 576.78 664.52 577.55C665.11 578.33 666.89 580.98 667.49 580.67C668.08 580.36 669.86 575.45 670.46 574.44C671.05 573.43 672.83 571.95 673.42 570.55C674.02 569.14 675.8 562.45 676.39 560.42C676.99 558.4 679.06 551.31 679.36 550.3" stroke="#3c3ce6" stroke-width="0.8" fill="none" stroke-linejoin="round"/>
</g>
<line x1="466.11" y1="475.3" x2="466.11" y2="663.6" stroke="#303030" stroke-width="1" stroke-dasharray="1 1.8"/>
<line x1="608.57" y1="475.3" x2="608.57" y2="663.6" stroke="#303030" stroke-width="1" stroke-dasharray="1 1.8"/>
<path d="M394.2 474.8V665.5" stroke="#8c8c8c" stroke-width="1" fill="none"/>
<path d="M389.6 665.5H679.36" stroke="#5c5c5c" stroke-width="1" fill="none"/>
<line x1="389.6" y1="601.83" x2="394.2" y2="601.83" stroke="#5c5c5c" stroke-width="1"/>
<line x1="389.6" y1="538.57" x2="394.2" y2="538.57" stroke="#5c5c5c" stroke-width="1"/>
<line x1="389.6" y1="475.3" x2="394.2" y2="475.3" stroke="#5c5c5c" stroke-width="1"/>
<text x="387.4" y="669.4" font-size="10.8" fill="#141414" text-anchor="end">0</text>
<text x="387.4" y="606.13" font-size="10.8" fill="#141414" text-anchor="end">5</text>
<text x="387.4" y="542.87" font-size="10.8" fill="#141414" text-anchor="end">10</text>
<text x="387.4" y="479.6" font-size="10.8" fill="#141414" text-anchor="end">15</text>
<text font-size="10.5" fill="#141414" text-anchor="end" transform="translate(400.9 679.6) rotate(-45)">0</text>
<text font-size="10.5" fill="#141414" text-anchor="end" transform="translate(430.58 679.6) rotate(-45)">10</text>
<text font-size="10.5" fill="#141414" text-anchor="end" transform="translate(460.26 679.6) rotate(-45)">20</text>
<text font-size="10.5" fill="#141414" text-anchor="end" transform="translate(489.94 679.6) rotate(-45)">30</text>
<text font-size="10.5" fill="#141414" text-anchor="end" transform="translate(519.62 679.6) rotate(-45)">40</text>
<text font-size="10.5" fill="#141414" text-anchor="end" transform="translate(549.3 679.6) rotate(-45)">50</text>
<text font-size="10.5" fill="#141414" text-anchor="end" transform="translate(578.98 679.6) rotate(-45)">60</text>
<text font-size="10.5" fill="#141414" text-anchor="end" transform="translate(608.66 679.6) rotate(-45)">70</text>
<text font-size="10.5" fill="#141414" text-anchor="end" transform="translate(638.34 679.6) rotate(-45)">80</text>
<text font-size="10.5" fill="#141414" text-anchor="end" transform="translate(668.02 679.6) rotate(-45)">90</text>
<path d="M397.5 665.5V670M427.5 665.5V670M456.5 665.5V670M486.5 665.5V670M516.5 665.5V670M545.5 665.5V670M575.5 665.5V670M605.5 665.5V670M634.5 665.5V670M664.5 665.5V670" stroke="#5c5c5c" stroke-width="1" fill="none"/>
<text font-size="13.8" font-weight="bold" fill="#111" text-anchor="middle" transform="translate(369 569.6) rotate(-90)">Glucose (mM)</text>
<text x="537.78" y="706" font-size="13.95" font-weight="bold" fill="#111" text-anchor="middle">Hours since Randomization</text>
<path d="M433.7 36V39.3M433.7 37.6H501.3M501.3 36V39.3" stroke="#555" stroke-width="1" fill="none"/>
<text x="467.6" y="36.4" font-size="20.5" font-weight="bold" fill="#111" text-anchor="middle">*</text>
<line x1="692.9" y1="328.5" x2="712.9" y2="328.5" stroke="#e61e3c" stroke-opacity="0.5" stroke-width="1"/>
<line x1="692.9" y1="350.5" x2="712.9" y2="350.5" stroke="#3418e6" stroke-opacity="0.5" stroke-width="1"/>
<text x="724.5" y="333.6" font-size="13" fill="#141414">High MAP</text>
<text x="724.5" y="355.3" font-size="13" fill="#141414">Low MAP</text>
</svg></body></html>
